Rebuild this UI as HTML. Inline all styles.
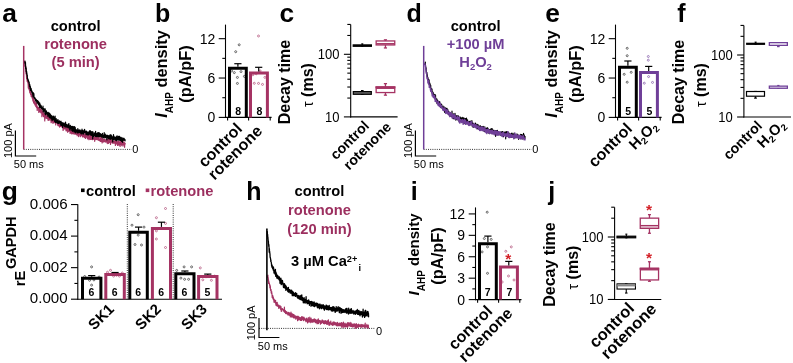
<!DOCTYPE html>
<html><head><meta charset="utf-8"><title>figure</title>
<style>
html,body{margin:0;padding:0;background:#fff;}
svg{display:block;will-change:transform;font-family:"Liberation Sans",sans-serif;}
</style></head><body>
<svg width="793" height="363" viewBox="0 0 793 363">
<rect width="793" height="363" fill="#fff"/>
<g opacity="0.999">
<text x="2.20" y="21.80" font-size="26.4" font-weight="bold" text-anchor="start" fill="#000000" >a</text>
<line x1="23.60" y1="149.40" x2="131.60" y2="149.40" stroke="#333" stroke-width="1.0" stroke-dasharray="1 1.2"/>
<path d="M24.6,62.5 24.7,63.4 24.8,61.2 25.0,66.4 25.1,62.6 25.2,64.2 25.3,66.3 25.4,64.8 25.6,66.1 25.7,67.4 25.8,70.3 25.9,73.6 26.0,71.9 26.2,71.5 26.3,74.7 26.4,74.4 26.5,76.2 26.6,78.8 26.8,77.5 26.9,79.5 27.0,79.0 27.1,80.4 27.2,81.4 27.4,80.3 27.5,81.6 27.6,82.2 27.7,82.2 27.8,81.9 28.0,82.1 28.1,84.2 28.2,84.5 28.3,88.1 28.4,82.8 28.6,86.4 28.7,87.2 28.8,88.9 28.9,88.3 29.0,87.1 29.2,88.6 29.3,89.8 29.4,89.2 29.5,90.9 29.6,88.0 29.8,92.8 29.9,92.8 30.0,90.9 30.1,92.5 30.2,92.1 30.4,91.4 30.5,92.9 30.6,94.4 30.7,93.0 30.8,93.4 31.0,94.1 31.1,95.1 31.2,96.5 31.3,94.5 31.4,96.2 31.6,96.2 31.7,94.0 31.8,96.1 31.9,96.8 32.0,97.3 32.2,98.1 32.3,95.5 32.4,98.5 32.5,97.9 32.6,97.3 32.8,100.1 32.9,100.7 33.0,99.1 33.1,101.2 33.2,99.9 33.4,100.6 33.5,99.4 33.6,103.0 33.7,97.9 33.8,101.3 34.0,102.5 34.1,99.3 34.2,101.8 34.3,102.1 34.4,103.5 34.6,104.2 34.7,102.3 34.8,101.3 34.9,105.0 35.0,105.0 35.2,103.1 35.3,104.3 35.4,104.5 35.5,105.0 35.6,104.7 35.8,106.4 35.9,102.7 36.0,106.4 36.1,105.8 36.2,105.2 36.4,107.2 36.5,103.0 36.6,107.6 36.7,106.8 36.8,105.1 37.0,107.3 37.1,106.6 37.2,110.4 37.3,109.7 37.4,108.1 37.6,106.9 37.7,107.3 37.8,107.8 37.9,107.6 38.0,107.3 38.2,107.9 38.3,108.4 38.4,108.2 38.5,108.1 38.6,108.0 38.8,112.4 38.9,107.5 39.0,108.2 39.1,110.2 39.2,109.4 39.4,110.4 39.5,111.0 39.6,111.7 39.7,111.2 39.8,109.2 40.0,111.9 40.1,108.5 40.2,110.7 40.3,110.3 40.4,109.7 40.6,111.9 40.7,111.1 40.8,112.7 40.9,109.7 41.0,112.8 41.2,112.5 41.3,112.1 41.4,110.3 41.5,111.9 41.6,110.4 41.8,109.9 41.9,116.7 42.0,114.0 42.1,115.1 42.2,112.5 42.4,114.0 42.5,114.2 42.6,114.2 42.7,113.6 42.8,113.4 43.0,111.2 43.1,114.7 43.2,114.6 43.3,115.6 43.4,114.0 43.6,116.6 43.7,114.0 43.8,113.2 43.9,116.0 44.0,114.4 44.2,113.5 44.3,115.4 44.4,116.3 44.5,115.8 44.6,116.3 44.8,120.9 44.9,116.8 45.0,117.8 45.1,113.5 45.2,116.5 45.4,117.1 45.5,115.8 45.6,115.2 45.7,116.9 45.8,116.1 46.0,115.8 46.1,118.1 46.2,118.4 46.3,117.2 46.4,116.3 46.6,117.6 46.7,118.1 46.8,117.9 46.9,115.4 47.0,116.8 47.2,117.8 47.3,118.2 47.4,118.7 47.5,118.5 47.6,116.2 47.8,116.9 47.9,116.3 48.0,120.2 48.1,118.2 48.2,118.8 48.4,119.4 48.5,117.8 48.6,116.9 48.7,117.8 48.8,118.3 49.0,120.4 49.1,119.7 49.2,117.3 49.3,119.6 49.4,119.8 49.6,117.6 49.7,118.9 49.8,116.8 49.9,119.6 50.0,118.9 50.2,117.7 50.3,118.5 50.4,119.8 50.5,118.9 50.6,120.0 50.8,120.4 50.9,118.8 51.0,119.5 51.1,122.7 51.2,120.2 51.4,119.1 51.5,120.3 51.6,118.6 51.7,121.8 51.8,120.9 52.0,121.9 52.1,121.7 52.2,121.2 52.3,122.0 52.4,121.1 52.6,120.1 52.7,119.7 52.8,120.5 52.9,118.0 53.0,123.4 53.2,119.1 53.3,121.2 53.4,119.7 53.5,118.9 53.6,121.4 53.8,121.2 53.9,121.4 54.0,122.4 54.1,121.0 54.2,122.3 54.4,122.5 54.5,121.5 54.6,121.6 54.7,122.7 54.8,122.2 55.0,122.4 55.1,119.3 55.2,122.4 55.3,122.9 55.4,122.3 55.6,122.9 55.7,125.0 55.8,122.8 55.9,123.5 56.0,121.7 56.2,121.8 56.3,122.3 56.4,121.7 56.5,123.0 56.6,121.9 56.8,122.9 56.9,121.4 57.0,121.2 57.1,122.5 57.2,122.1 57.4,122.7 57.5,122.8 57.6,123.2 57.7,125.0 57.8,125.5 58.0,124.7 58.1,123.4 58.2,125.8 58.3,122.1 58.4,121.5 58.6,124.5 58.7,124.2 58.8,124.1 58.9,124.4 59.0,122.3 59.2,123.0 59.3,126.1 59.4,125.9 59.5,123.8 59.6,127.1 59.8,123.5 59.9,124.1 60.0,125.3 60.1,123.5 60.2,124.4 60.4,124.9 60.5,124.7 60.6,126.3 60.7,126.0 60.8,124.0 61.0,124.6 61.1,125.7 61.2,125.5 61.3,124.6 61.4,126.2 61.6,126.8 61.7,125.0 61.8,126.9 61.9,123.9 62.0,124.0 62.2,126.7 62.3,125.1 62.4,125.0 62.5,125.9 62.6,125.5 62.8,126.8 62.9,124.6 63.0,126.1 63.1,130.5 63.2,126.8 63.4,124.3 63.5,127.5 63.6,127.5 63.7,128.6 63.8,127.1 64.0,126.2 64.1,128.9 64.2,128.0 64.3,125.0 64.4,128.2 64.6,127.1 64.7,128.8 64.8,127.0 64.9,128.5 65.0,127.8 65.2,128.4 65.3,127.7 65.4,127.3 65.5,127.9 65.6,128.7 65.8,128.5 65.9,130.1 66.0,128.6 66.1,129.0 66.2,130.9 66.4,128.4 66.5,129.0 66.6,127.7 66.7,128.5 66.8,130.6 67.0,129.0 67.1,130.5 67.2,127.4 67.3,127.0 67.4,129.2 67.6,127.2 67.7,132.3 67.8,130.6 67.9,127.5 68.0,129.0 68.2,128.5 68.3,129.8 68.4,129.3 68.5,130.6 68.6,131.3 68.8,129.3 68.9,128.1 69.0,130.4 69.1,129.5 69.2,131.2 69.4,129.7 69.5,131.0 69.6,130.4 69.7,129.8 69.8,129.5 70.0,131.1 70.1,133.4 70.2,131.3 70.3,130.2 70.4,131.3 70.6,130.6 70.7,128.9 70.8,131.0 70.9,132.6 71.0,130.3 71.2,129.4 71.3,131.5 71.4,133.2 71.5,132.2 71.6,132.3 71.8,134.0 71.9,133.2 72.0,132.1 72.1,131.0 72.2,131.5 72.4,131.3 72.5,132.6 72.6,130.5 72.7,133.6 72.8,131.9 73.0,131.2 73.1,132.8 73.2,129.3 73.3,130.9 73.4,131.2 73.6,133.1 73.7,131.5 73.8,134.0 73.9,131.7 74.0,133.0 74.2,131.5 74.3,133.9 74.4,132.2 74.5,133.2 74.6,132.0 74.8,131.3 74.9,132.4 75.0,134.1 75.1,131.4 75.2,130.8 75.4,132.4 75.5,133.8 75.6,131.5 75.7,132.2 75.8,133.2 76.0,132.6 76.1,133.4 76.2,134.5 76.3,133.1 76.4,133.0 76.6,134.1 76.7,133.1 76.8,132.0 76.9,132.0 77.0,131.9 77.2,135.7 77.3,133.3 77.4,134.1 77.5,134.4 77.6,132.3 77.8,134.3 77.9,132.9 78.0,131.0 78.1,133.4 78.2,132.3 78.4,133.3 78.5,134.2 78.6,136.6 78.7,133.2 78.8,133.7 79.0,134.4 79.1,134.2 79.2,133.8 79.3,132.7 79.4,132.8 79.6,133.9 79.7,132.7 79.8,133.3 79.9,132.6 80.0,135.6 80.2,132.4 80.3,136.7 80.4,133.6 80.5,133.1 80.6,132.9 80.8,135.4 80.9,135.8 81.0,133.5 81.1,135.0 81.2,134.4 81.4,134.3 81.5,134.9 81.6,135.7 81.7,132.3 81.8,132.0 82.0,135.1 82.1,134.8 82.2,135.7 82.3,132.8 82.4,133.7 82.6,136.9 82.7,133.4 82.8,135.5 82.9,134.1 83.0,134.6 83.2,133.5 83.3,136.7 83.4,132.9 83.5,133.8 83.6,134.2 83.8,136.8 83.9,135.8 84.0,136.3 84.1,135.5 84.2,135.8 84.4,136.2 84.5,137.5 84.6,135.9 84.7,133.8 84.8,137.1 85.0,135.9 85.1,134.4 85.2,135.6 85.3,134.6 85.4,138.5 85.6,135.5 85.7,133.5 85.8,136.4 85.9,135.0 86.0,137.7 86.2,136.3 86.3,133.9 86.4,135.6 86.5,134.9 86.6,135.3 86.8,135.5 86.9,133.8 87.0,136.6 87.1,135.3 87.2,135.3 87.4,137.4 87.5,138.8 87.6,135.7 87.7,138.8 87.8,134.0 88.0,137.3 88.1,135.9 88.2,136.5 88.3,135.4 88.4,136.0 88.6,136.3 88.7,136.3 88.8,137.3 88.9,139.7 89.0,136.0 89.2,136.7 89.3,134.7 89.4,133.8 89.5,138.7 89.6,135.3 89.8,136.1 89.9,137.1 90.0,138.2 90.1,137.5 90.2,139.5 90.4,136.9 90.5,134.9 90.6,137.4 90.7,137.4 90.8,136.3 91.0,136.9 91.1,136.6 91.2,139.5 91.3,136.6 91.4,135.7 91.6,137.8 91.7,135.2 91.8,138.0 91.9,138.0 92.0,136.5 92.2,136.9 92.3,136.9 92.4,139.7 92.5,138.2 92.6,136.2 92.8,136.2 92.9,137.7 93.0,137.8 93.1,136.9 93.2,138.2 93.4,137.6 93.5,139.3 93.6,138.5 93.7,137.9 93.8,138.2 94.0,136.9 94.1,139.2 94.2,138.6 94.3,137.6 94.4,138.3 94.6,137.5 94.7,141.3 94.8,137.7 94.9,138.9 95.0,138.7 95.2,137.3 95.3,138.4 95.4,138.0 95.5,138.7 95.6,138.8 95.8,139.4 95.9,139.5 96.0,138.0 96.1,137.9 96.2,137.8 96.4,137.5 96.5,136.5 96.6,139.4 96.7,138.6 96.8,138.5 97.0,136.7 97.1,136.9 97.2,135.7 97.3,138.7 97.4,139.7 97.6,139.6 97.7,138.8 97.8,137.6 97.9,139.0 98.0,139.0 98.2,139.9 98.3,140.0 98.4,138.8 98.5,139.1 98.6,140.0 98.8,139.8 98.9,139.0 99.0,136.5 99.1,138.4 99.2,140.4 99.4,139.5 99.5,140.6 99.6,139.0 99.7,139.5 99.8,140.4 100.0,140.3 100.1,140.0 100.2,140.9 100.3,141.2 100.4,141.3 100.6,137.5 100.7,139.0 100.8,139.2 100.9,139.2 101.0,137.7 101.2,141.4 101.3,138.5 101.4,139.9 101.5,136.8 101.6,139.2 101.8,139.5 101.9,138.7 102.0,140.8 102.1,142.9 102.2,138.9 102.4,138.9 102.5,142.2 102.6,140.7 102.7,139.7 102.8,138.5 103.0,141.0 103.1,140.4 103.2,142.1 103.3,139.1 103.4,140.0 103.6,139.9 103.7,140.0 103.8,141.6 103.9,141.4 104.0,139.6 104.2,140.3 104.3,140.1 104.4,141.5 104.5,140.2 104.6,139.1 104.8,140.1 104.9,140.5 105.0,141.7 105.1,142.2 105.2,142.2 105.4,141.1 105.5,140.0 105.6,141.4 105.7,140.5 105.8,140.0 106.0,141.1 106.1,141.3 106.2,141.9 106.3,139.7 106.4,138.8 106.6,141.5 106.7,139.7 106.8,142.2 106.9,139.6 107.0,140.3 107.2,138.8 107.3,143.6 107.4,140.5 107.5,141.0 107.6,140.5 107.8,140.8 107.9,142.2 108.0,141.3 108.1,141.2 108.2,142.7 108.4,139.6 108.5,142.7 108.6,143.3 108.7,139.6 108.8,141.7 109.0,139.8 109.1,138.8 109.2,140.4 109.3,142.1 109.4,142.5 109.6,141.1 109.7,140.5 109.8,141.0 109.9,140.7 110.0,140.8 110.2,138.7 110.3,141.4 110.4,141.6 110.5,144.5 110.6,142.6 110.8,141.6 110.9,141.9 111.0,142.3 111.1,141.0 111.2,139.3 111.4,141.0 111.5,141.7 111.6,142.1 111.7,141.1 111.8,140.9 112.0,141.7 112.1,142.1 112.2,142.8 112.3,141.8 112.4,142.6 112.6,140.9 112.7,143.1 112.8,142.1 112.9,140.5 113.0,141.9 113.2,142.3 113.3,140.9 113.4,143.1 113.5,141.8 113.6,142.8 113.8,141.0 113.9,142.7 114.0,143.2 114.1,141.8 114.2,142.1 114.4,141.7 114.5,142.8 114.6,142.5 114.7,143.1 114.8,142.4 115.0,140.9 115.1,140.8 115.2,141.9 115.3,143.1 115.4,145.4 115.6,143.6 115.7,141.8 115.8,140.1 115.9,143.3 116.0,142.7 116.2,141.1 116.3,143.8 116.4,142.7 116.5,142.2 116.6,140.3 116.8,143.9 116.9,142.8 117.0,142.5 117.1,141.6 117.2,142.3 117.4,144.4 117.5,143.5 117.6,145.4 117.7,144.2 117.8,143.3 118.0,144.0 118.1,143.1 118.2,141.1 118.3,142.2 118.4,143.4 118.6,141.8 118.7,142.4 118.8,141.5 118.9,145.2 119.0,141.4 119.2,141.8 119.3,142.0 119.4,144.3 119.5,144.6 119.6,142.5 119.8,143.9 119.9,142.1 120.0,143.2 120.1,146.5 120.2,144.4 120.4,143.2 120.5,141.6 120.6,142.9 120.7,141.7 120.8,140.6 121.0,144.1 121.1,144.1 121.2,143.7 121.3,144.7 121.4,141.4 121.6,145.2 121.7,142.1 121.8,144.0 121.9,144.1 122.0,144.9 122.2,146.0 122.3,144.0 122.4,143.1 122.5,142.2 122.6,143.9 122.8,142.6 122.9,142.0 123.0,143.4 123.1,144.5 123.2,143.3 123.4,142.4 123.5,143.9 123.6,142.2 123.7,141.9 123.8,145.6 124.0,144.1 124.1,146.3 124.2,142.0 124.3,145.2 124.4,143.7 124.6,147.3 124.7,143.7 124.8,143.4 124.9,144.5 125.0,144.2 125.2,143.4" fill="none" stroke="#A53363" stroke-width="1.2" stroke-linejoin="round" stroke-linecap="round"/>
<line x1="23.70" y1="45.90" x2="23.70" y2="149.40" stroke="#A53363" stroke-width="1.5" />
<path d="M24.9,63.1 25.0,61.2 25.1,62.2 25.3,62.4 25.4,65.7 25.5,62.6 25.6,68.5 25.7,66.2 25.9,68.5 26.0,68.6 26.1,71.6 26.2,67.9 26.3,70.7 26.5,71.3 26.6,73.9 26.7,71.7 26.8,73.5 26.9,73.3 27.1,75.1 27.2,76.5 27.3,75.0 27.4,78.5 27.5,78.8 27.7,79.0 27.8,80.2 27.9,78.8 28.0,79.9 28.1,79.3 28.3,80.5 28.4,81.8 28.5,80.7 28.6,81.4 28.7,81.4 28.9,81.6 29.0,82.2 29.1,83.4 29.2,82.4 29.3,84.4 29.5,86.6 29.6,85.8 29.7,85.0 29.8,84.5 29.9,85.1 30.1,88.5 30.2,86.8 30.3,86.3 30.4,87.7 30.5,90.5 30.7,88.4 30.8,89.4 30.9,89.4 31.0,88.9 31.1,88.3 31.3,89.5 31.4,90.0 31.5,91.3 31.6,91.9 31.7,92.3 31.9,91.7 32.0,92.8 32.1,91.0 32.2,93.8 32.3,93.2 32.5,92.4 32.6,93.7 32.7,93.3 32.8,95.1 32.9,95.8 33.1,96.9 33.2,92.7 33.3,93.0 33.4,94.4 33.5,95.5 33.7,96.7 33.8,96.3 33.9,93.7 34.0,96.1 34.1,97.8 34.3,97.3 34.4,98.3 34.5,97.3 34.6,97.6 34.7,98.4 34.9,98.9 35.0,98.8 35.1,98.9 35.2,98.1 35.3,99.5 35.5,99.4 35.6,100.8 35.7,101.1 35.8,100.0 35.9,99.4 36.1,99.3 36.2,100.8 36.3,100.5 36.4,100.1 36.5,100.8 36.7,100.1 36.8,102.0 36.9,100.7 37.0,102.9 37.1,102.1 37.3,102.5 37.4,100.6 37.5,102.3 37.6,103.2 37.7,101.2 37.9,102.3 38.0,102.8 38.1,101.2 38.2,103.5 38.3,104.3 38.5,102.4 38.6,104.0 38.7,102.1 38.8,103.9 38.9,102.1 39.1,105.7 39.2,105.0 39.3,104.6 39.4,103.8 39.5,106.5 39.7,107.6 39.8,103.0 39.9,107.0 40.0,107.7 40.1,106.2 40.3,104.5 40.4,107.2 40.5,106.1 40.6,105.7 40.7,105.1 40.9,107.5 41.0,108.0 41.1,106.3 41.2,107.9 41.3,105.9 41.5,108.5 41.6,107.6 41.7,107.5 41.8,107.7 41.9,109.0 42.1,109.0 42.2,108.8 42.3,108.5 42.4,108.5 42.5,109.3 42.7,109.0 42.8,109.6 42.9,108.5 43.0,106.0 43.1,110.4 43.3,112.0 43.4,109.9 43.5,109.4 43.6,109.4 43.7,109.6 43.9,109.9 44.0,108.6 44.1,109.5 44.2,109.0 44.3,110.7 44.5,110.1 44.6,111.2 44.7,110.5 44.8,112.1 44.9,111.2 45.1,113.8 45.2,108.8 45.3,110.5 45.4,112.5 45.5,114.7 45.7,111.3 45.8,111.8 45.9,111.6 46.0,113.7 46.1,111.8 46.3,113.1 46.4,112.0 46.5,110.9 46.6,113.0 46.7,113.4 46.9,114.5 47.0,112.8 47.1,112.3 47.2,113.9 47.3,113.6 47.5,113.8 47.6,113.5 47.7,115.2 47.8,114.3 47.9,116.3 48.1,115.4 48.2,115.0 48.3,112.3 48.4,115.2 48.5,115.1 48.7,115.6 48.8,116.0 48.9,114.3 49.0,115.9 49.1,114.3 49.3,117.5 49.4,113.5 49.5,113.1 49.6,113.3 49.7,114.3 49.9,114.1 50.0,118.1 50.1,115.3 50.2,114.1 50.3,117.3 50.5,115.3 50.6,114.5 50.7,117.3 50.8,117.1 50.9,115.8 51.1,118.2 51.2,116.7 51.3,118.7 51.4,117.4 51.5,118.8 51.7,117.1 51.8,115.5 51.9,120.2 52.0,116.5 52.1,117.0 52.3,116.5 52.4,117.2 52.5,117.9 52.6,117.9 52.7,118.6 52.9,120.1 53.0,117.8 53.1,116.5 53.2,116.6 53.3,117.4 53.5,116.2 53.6,119.4 53.7,117.9 53.8,118.2 53.9,118.7 54.1,117.0 54.2,117.8 54.3,119.8 54.4,119.8 54.5,118.6 54.7,121.5 54.8,117.7 54.9,119.0 55.0,119.2 55.1,116.1 55.3,122.1 55.4,120.2 55.5,118.5 55.6,122.5 55.7,120.8 55.9,120.7 56.0,119.5 56.1,120.4 56.2,118.5 56.3,121.5 56.5,120.1 56.6,120.8 56.7,122.3 56.8,121.2 56.9,121.3 57.1,121.4 57.2,120.2 57.3,122.2 57.4,123.1 57.5,122.2 57.7,122.4 57.8,120.3 57.9,120.4 58.0,119.7 58.1,123.1 58.3,121.3 58.4,123.4 58.5,120.8 58.6,121.3 58.7,122.0 58.9,123.1 59.0,122.1 59.1,122.3 59.2,122.1 59.3,122.4 59.5,120.8 59.6,122.4 59.7,122.1 59.8,122.3 59.9,123.1 60.1,121.7 60.2,122.5 60.3,122.3 60.4,123.2 60.5,123.8 60.7,121.6 60.8,123.6 60.9,125.5 61.0,121.2 61.1,122.0 61.3,122.0 61.4,122.8 61.5,125.3 61.6,123.3 61.7,122.5 61.9,124.2 62.0,122.7 62.1,125.0 62.2,124.0 62.3,125.4 62.5,122.9 62.6,127.6 62.7,124.9 62.8,124.7 62.9,123.9 63.1,123.1 63.2,123.0 63.3,124.0 63.4,123.2 63.5,124.6 63.7,123.3 63.8,125.2 63.9,125.6 64.0,123.6 64.1,126.1 64.3,124.3 64.4,126.1 64.5,125.3 64.6,126.2 64.7,123.6 64.9,124.8 65.0,126.8 65.1,124.3 65.2,122.6 65.3,122.7 65.5,122.1 65.6,122.6 65.7,124.8 65.8,127.0 65.9,124.9 66.1,125.9 66.2,125.5 66.3,125.7 66.4,125.5 66.5,125.6 66.7,126.4 66.8,124.4 66.9,127.2 67.0,127.2 67.1,125.8 67.3,127.1 67.4,125.3 67.5,125.6 67.6,126.5 67.7,126.1 67.9,125.9 68.0,125.6 68.1,125.8 68.2,127.8 68.3,124.2 68.5,127.2 68.6,126.5 68.7,127.7 68.8,127.5 68.9,123.5 69.1,127.7 69.2,127.5 69.3,127.2 69.4,126.6 69.5,128.3 69.7,126.8 69.8,129.7 69.9,128.1 70.0,130.2 70.1,126.6 70.3,125.4 70.4,128.6 70.5,128.8 70.6,127.8 70.7,125.9 70.9,127.3 71.0,128.7 71.1,127.8 71.2,127.9 71.3,127.9 71.5,127.0 71.6,127.6 71.7,126.5 71.8,130.6 71.9,127.8 72.1,129.1 72.2,127.3 72.3,129.6 72.4,126.3 72.5,129.9 72.7,128.8 72.8,131.5 72.9,127.3 73.0,129.1 73.1,129.5 73.3,130.6 73.4,128.6 73.5,129.3 73.6,126.6 73.7,128.3 73.9,130.0 74.0,130.8 74.1,129.2 74.2,132.1 74.3,131.8 74.5,129.6 74.6,126.7 74.7,127.6 74.8,128.9 74.9,131.3 75.1,130.4 75.2,127.4 75.3,129.8 75.4,132.2 75.5,129.8 75.7,129.3 75.8,132.9 75.9,130.4 76.0,129.8 76.1,130.8 76.3,130.4 76.4,129.9 76.5,132.0 76.6,131.9 76.7,131.6 76.9,130.4 77.0,132.0 77.1,130.5 77.2,131.2 77.3,131.9 77.5,131.7 77.6,132.9 77.7,131.3 77.8,128.6 77.9,129.3 78.1,132.5 78.2,130.4 78.3,131.3 78.4,129.8 78.5,132.2 78.7,130.4 78.8,132.8 78.9,130.3 79.0,132.4 79.1,131.9 79.3,130.2 79.4,132.5 79.5,130.0 79.6,130.1 79.7,132.1 79.9,130.4 80.0,130.5 80.1,130.8 80.2,130.0 80.3,132.6 80.5,132.1 80.6,131.3 80.7,131.2 80.8,132.0 80.9,133.6 81.1,132.5 81.2,130.8 81.3,132.5 81.4,131.4 81.5,131.3 81.7,133.9 81.8,131.1 81.9,131.0 82.0,129.2 82.1,129.9 82.3,132.3 82.4,130.9 82.5,132.4 82.6,130.4 82.7,130.8 82.9,132.7 83.0,133.7 83.1,132.6 83.2,133.4 83.3,134.1 83.5,133.3 83.6,130.8 83.7,131.9 83.8,132.8 83.9,131.5 84.1,132.6 84.2,130.1 84.3,131.1 84.4,132.8 84.5,129.4 84.7,130.8 84.8,132.2 84.9,130.1 85.0,132.4 85.1,131.3 85.3,132.0 85.4,132.0 85.5,132.6 85.6,131.7 85.7,132.5 85.9,131.7 86.0,133.2 86.1,134.6 86.2,132.8 86.3,132.8 86.5,131.1 86.6,133.5 86.7,131.7 86.8,131.6 86.9,133.4 87.1,132.9 87.2,134.1 87.3,134.5 87.4,132.1 87.5,132.9 87.7,135.0 87.8,134.0 87.9,133.8 88.0,134.5 88.1,132.2 88.3,133.7 88.4,134.7 88.5,135.0 88.6,132.0 88.7,132.7 88.9,133.5 89.0,132.7 89.1,132.6 89.2,134.0 89.3,132.7 89.5,130.9 89.6,133.6 89.7,132.7 89.8,132.3 89.9,131.3 90.1,134.6 90.2,130.5 90.3,131.2 90.4,133.0 90.5,134.9 90.7,135.0 90.8,132.0 90.9,133.2 91.0,131.6 91.1,134.8 91.3,131.7 91.4,133.4 91.5,134.9 91.6,133.3 91.7,135.5 91.9,132.6 92.0,134.1 92.1,134.8 92.2,133.5 92.3,135.5 92.5,134.5 92.6,131.7 92.7,138.8 92.8,134.7 92.9,134.0 93.1,132.1 93.2,134.0 93.3,133.4 93.4,134.8 93.5,134.5 93.7,136.3 93.8,134.2 93.9,134.7 94.0,134.5 94.1,133.9 94.3,133.9 94.4,135.5 94.5,135.2 94.6,133.4 94.7,132.8 94.9,134.2 95.0,135.7 95.1,134.3 95.2,136.5 95.3,133.4 95.5,134.6 95.6,131.3 95.7,133.7 95.8,134.1 95.9,135.1 96.1,136.6 96.2,134.6 96.3,136.4 96.4,135.4 96.5,135.8 96.7,134.0 96.8,136.4 96.9,133.3 97.0,135.3 97.1,133.5 97.3,134.1 97.4,132.9 97.5,134.1 97.6,135.2 97.7,134.7 97.9,133.2 98.0,136.7 98.1,135.3 98.2,136.2 98.3,135.9 98.5,134.1 98.6,132.6 98.7,133.9 98.8,136.6 98.9,133.8 99.1,136.1 99.2,134.4 99.3,135.6 99.4,132.9 99.5,136.7 99.7,135.2 99.8,136.4 99.9,135.5 100.0,136.3 100.1,135.2 100.3,136.3 100.4,133.5 100.5,134.0 100.6,136.3 100.7,135.4 100.9,135.2 101.0,135.3 101.1,136.1 101.2,134.8 101.3,136.2 101.5,134.4 101.6,135.1 101.7,136.9 101.8,137.0 101.9,134.3 102.1,136.8 102.2,134.4 102.3,136.7 102.4,133.4 102.5,134.4 102.7,135.2 102.8,135.6 102.9,137.7 103.0,137.0 103.1,137.9 103.3,137.5 103.4,135.6 103.5,135.7 103.6,137.4 103.7,136.1 103.9,135.9 104.0,134.4 104.1,136.0 104.2,132.7 104.3,135.6 104.5,135.0 104.6,137.1 104.7,135.6 104.8,135.9 104.9,138.0 105.1,135.0 105.2,136.7 105.3,134.0 105.4,136.5 105.5,136.9 105.7,137.5 105.8,135.3 105.9,136.9 106.0,136.9 106.1,136.5 106.3,136.7 106.4,137.2 106.5,137.1 106.6,135.4 106.7,135.2 106.9,139.8 107.0,139.1 107.1,135.0 107.2,137.3 107.3,137.6 107.5,137.7 107.6,137.0 107.7,135.7 107.8,136.6 107.9,136.3 108.1,137.1 108.2,136.6 108.3,136.8 108.4,138.3 108.5,138.5 108.7,135.6 108.8,136.5 108.9,136.1 109.0,138.6 109.1,137.1 109.3,139.0 109.4,136.6 109.5,137.2 109.6,135.5 109.7,138.9 109.9,136.8 110.0,135.4 110.1,136.6 110.2,134.5 110.3,137.3 110.5,137.5 110.6,137.8 110.7,139.3 110.8,137.1 110.9,138.5 111.1,137.9 111.2,137.3 111.3,135.0 111.4,138.8 111.5,137.0 111.7,137.7 111.8,136.1 111.9,138.0 112.0,137.8 112.1,137.8 112.3,137.6 112.4,139.1 112.5,139.0 112.6,138.7 112.7,142.0 112.9,137.1 113.0,137.4 113.1,136.7 113.2,138.5 113.3,137.1 113.5,134.6 113.6,136.5 113.7,138.1 113.8,139.3 113.9,136.1 114.1,137.3 114.2,137.9 114.3,137.2 114.4,138.8 114.5,138.2 114.7,138.6 114.8,137.3 114.9,140.1 115.0,138.2 115.1,139.9 115.3,137.7 115.4,139.0 115.5,137.4 115.6,137.1 115.7,137.4 115.9,138.3 116.0,138.1 116.1,140.3 116.2,137.0 116.3,137.0 116.5,140.6 116.6,139.2 116.7,136.1 116.8,139.1 116.9,138.8 117.1,135.8 117.2,138.1 117.3,138.5 117.4,139.5 117.5,139.8 117.7,138.7 117.8,139.9 117.9,138.5 118.0,137.6 118.1,137.5 118.3,139.4 118.4,136.3 118.5,139.6 118.6,137.4 118.7,138.3 118.9,139.4 119.0,140.3 119.1,136.4 119.2,137.8 119.3,138.9 119.5,138.1 119.6,140.0 119.7,136.3 119.8,139.4 119.9,139.5 120.1,139.0 120.2,140.3 120.3,137.5 120.4,140.4 120.5,138.1 120.7,139.9 120.8,138.7 120.9,140.1 121.0,140.1 121.1,137.3 121.3,138.9 121.4,139.0 121.5,138.9 121.6,138.2 121.7,141.5 121.9,139.5 122.0,141.2 122.1,138.5 122.2,137.9 122.3,139.4 122.5,138.6 122.6,142.3 122.7,139.6 122.8,140.8 122.9,139.1 123.1,139.0 123.2,139.4 123.3,139.9 123.4,140.5 123.5,139.3 123.7,138.6 123.8,138.2 123.9,139.4 124.0,140.2 124.1,140.1 124.3,139.5 124.4,138.8 124.5,139.8 124.6,140.3 124.7,139.6 124.9,139.8 125.0,139.5 125.1,140.8" fill="none" stroke="#000000" stroke-width="1.2" stroke-linejoin="round" stroke-linecap="round"/>
<text x="132.30" y="153.40" font-size="11" font-weight="normal" text-anchor="start" fill="#000000" >0</text>
<path d="M15.40,130.5 V156 H36.20" fill="none" stroke="#000" stroke-width="1.2"/>
<text transform="translate(11.80,158.00) rotate(-90)" font-size="11" font-weight="normal" text-anchor="start" fill="#000000" >100 pA</text>
<text x="13.80" y="168.20" font-size="11" font-weight="normal" text-anchor="start" fill="#000000" >50 ms</text>
<text x="75.60" y="31.00" font-size="14.7" font-weight="bold" text-anchor="middle" fill="#000000" >control</text>
<text x="75.60" y="48.90" font-size="14.7" font-weight="bold" text-anchor="middle" fill="#9C2F5F" >rotenone</text>
<text x="75.60" y="66.70" font-size="14.7" font-weight="bold" text-anchor="middle" fill="#9C2F5F" >(5 min)</text>
<text x="406.50" y="21.50" font-size="25.0" font-weight="bold" text-anchor="start" fill="#000000" >d</text>
<line x1="423.60" y1="149.40" x2="531.60" y2="149.40" stroke="#333" stroke-width="1.0" stroke-dasharray="1 1.2"/>
<path d="M424.9,64.5 425.0,63.6 425.1,63.9 425.3,62.1 425.4,64.8 425.5,65.4 425.6,66.5 425.7,66.5 425.9,68.0 426.0,68.1 426.1,67.8 426.2,71.3 426.3,72.0 426.5,73.7 426.6,72.4 426.7,72.5 426.8,73.1 426.9,72.5 427.1,76.4 427.2,74.5 427.3,75.1 427.4,77.0 427.5,79.5 427.7,78.4 427.8,77.2 427.9,78.0 428.0,80.1 428.1,79.5 428.3,79.1 428.4,80.2 428.5,81.8 428.6,83.8 428.7,80.1 428.9,81.3 429.0,81.5 429.1,79.9 429.2,82.1 429.3,82.4 429.5,85.5 429.6,84.3 429.7,82.9 429.8,86.1 429.9,85.3 430.1,83.9 430.2,85.8 430.3,86.2 430.4,86.2 430.5,87.8 430.7,85.3 430.8,88.2 430.9,90.2 431.0,90.4 431.1,91.1 431.3,91.3 431.4,92.0 431.5,89.0 431.6,91.7 431.7,88.6 431.9,90.4 432.0,89.0 432.1,93.0 432.2,93.6 432.3,91.9 432.5,94.6 432.6,91.8 432.7,93.1 432.8,93.3 432.9,92.0 433.1,94.1 433.2,96.3 433.3,92.8 433.4,95.5 433.5,94.4 433.7,97.0 433.8,95.7 433.9,96.2 434.0,96.4 434.1,96.1 434.3,94.3 434.4,98.0 434.5,94.8 434.6,97.1 434.7,97.8 434.9,96.2 435.0,97.7 435.1,99.2 435.2,98.0 435.3,97.1 435.5,94.9 435.6,97.5 435.7,98.2 435.8,98.6 435.9,98.3 436.1,100.1 436.2,99.1 436.3,99.8 436.4,100.9 436.5,99.2 436.7,100.0 436.8,103.2 436.9,101.8 437.0,99.2 437.1,100.8 437.3,101.8 437.4,102.8 437.5,101.5 437.6,100.8 437.7,100.7 437.9,102.6 438.0,102.3 438.1,101.4 438.2,102.0 438.3,101.8 438.5,103.4 438.6,101.8 438.7,103.4 438.8,104.0 438.9,103.7 439.1,102.2 439.2,105.0 439.3,102.6 439.4,104.2 439.5,102.8 439.7,101.7 439.8,104.3 439.9,104.5 440.0,104.2 440.1,104.8 440.3,103.8 440.4,103.8 440.5,104.7 440.6,107.4 440.7,106.2 440.9,104.7 441.0,106.1 441.1,105.0 441.2,105.2 441.3,106.9 441.5,105.4 441.6,104.1 441.7,105.2 441.8,106.5 441.9,106.7 442.1,108.3 442.2,106.0 442.3,107.9 442.4,107.6 442.5,107.0 442.7,108.3 442.8,108.0 442.9,106.4 443.0,108.9 443.1,106.2 443.3,107.9 443.4,107.9 443.5,108.5 443.6,107.2 443.7,108.2 443.9,108.1 444.0,109.7 444.1,107.5 444.2,108.7 444.3,108.4 444.5,107.2 444.6,112.3 444.7,108.9 444.8,107.3 444.9,111.0 445.1,108.0 445.2,109.9 445.3,110.6 445.4,108.8 445.5,109.2 445.7,109.1 445.8,109.8 445.9,108.0 446.0,108.6 446.1,110.0 446.3,111.6 446.4,111.2 446.5,112.7 446.6,111.5 446.7,110.1 446.9,110.7 447.0,108.4 447.1,109.8 447.2,109.8 447.3,111.6 447.5,112.1 447.6,110.7 447.7,110.8 447.8,109.7 447.9,111.6 448.1,112.1 448.2,112.5 448.3,111.0 448.4,114.6 448.5,113.7 448.7,112.2 448.8,111.8 448.9,112.1 449.0,112.8 449.1,112.7 449.3,113.4 449.4,113.9 449.5,114.7 449.6,114.6 449.7,113.1 449.9,113.8 450.0,112.9 450.1,112.7 450.2,115.9 450.3,113.0 450.5,116.1 450.6,113.3 450.7,114.1 450.8,115.2 450.9,113.9 451.1,114.5 451.2,113.8 451.3,113.5 451.4,114.0 451.5,113.4 451.7,116.4 451.8,114.2 451.9,116.6 452.0,111.2 452.1,114.6 452.3,115.4 452.4,114.4 452.5,116.2 452.6,115.7 452.7,114.6 452.9,115.6 453.0,118.6 453.1,115.5 453.2,115.6 453.3,114.7 453.5,115.5 453.6,113.8 453.7,115.3 453.8,118.6 453.9,117.0 454.1,116.5 454.2,117.2 454.3,118.2 454.4,116.7 454.5,118.6 454.7,117.4 454.8,116.3 454.9,118.3 455.0,113.3 455.1,115.6 455.3,116.7 455.4,115.3 455.5,116.3 455.6,115.8 455.7,115.9 455.9,120.1 456.0,117.6 456.1,116.8 456.2,118.6 456.3,116.7 456.5,118.2 456.6,117.6 456.7,119.3 456.8,115.5 456.9,118.3 457.1,117.6 457.2,116.1 457.3,118.9 457.4,116.6 457.5,119.7 457.7,118.4 457.8,118.7 457.9,118.0 458.0,119.1 458.1,115.7 458.3,118.2 458.4,117.4 458.5,118.6 458.6,118.3 458.7,119.2 458.9,117.4 459.0,120.8 459.1,121.5 459.2,118.4 459.3,118.7 459.5,119.2 459.6,120.5 459.7,121.3 459.8,117.5 459.9,118.3 460.1,117.8 460.2,117.8 460.3,117.1 460.4,119.7 460.5,117.8 460.7,121.2 460.8,120.5 460.9,118.2 461.0,118.2 461.1,118.8 461.3,121.3 461.4,118.6 461.5,117.8 461.6,119.7 461.7,120.3 461.9,119.0 462.0,121.9 462.1,120.3 462.2,120.6 462.3,119.0 462.5,120.1 462.6,120.0 462.7,117.4 462.8,120.6 462.9,118.1 463.1,120.3 463.2,118.6 463.3,123.0 463.4,120.9 463.5,121.6 463.7,121.8 463.8,119.0 463.9,117.9 464.0,120.3 464.1,121.9 464.3,121.0 464.4,121.9 464.5,122.1 464.6,119.1 464.7,121.4 464.9,123.6 465.0,120.4 465.1,118.7 465.2,121.0 465.3,120.7 465.5,121.9 465.6,120.3 465.7,121.6 465.8,118.7 465.9,122.6 466.1,123.6 466.2,123.3 466.3,119.8 466.4,122.2 466.5,118.1 466.7,122.2 466.8,121.8 466.9,120.7 467.0,122.4 467.1,122.2 467.3,123.3 467.4,122.3 467.5,122.5 467.6,119.8 467.7,120.9 467.9,121.8 468.0,122.8 468.1,122.5 468.2,124.4 468.3,121.5 468.5,122.3 468.6,123.0 468.7,122.4 468.8,123.4 468.9,122.1 469.1,124.6 469.2,122.5 469.3,124.4 469.4,123.0 469.5,124.9 469.7,121.4 469.8,123.8 469.9,122.7 470.0,123.6 470.1,124.8 470.3,121.9 470.4,121.8 470.5,122.2 470.6,123.8 470.7,121.2 470.9,123.7 471.0,122.1 471.1,122.3 471.2,123.3 471.3,124.3 471.5,123.1 471.6,123.3 471.7,123.9 471.8,123.7 471.9,120.7 472.1,123.6 472.2,124.3 472.3,125.6 472.4,126.8 472.5,125.1 472.7,124.5 472.8,123.2 472.9,124.6 473.0,125.5 473.1,126.1 473.3,123.5 473.4,125.0 473.5,125.7 473.6,127.1 473.7,125.1 473.9,124.2 474.0,124.0 474.1,124.5 474.2,124.2 474.3,126.1 474.5,126.4 474.6,126.1 474.7,126.7 474.8,124.7 474.9,125.8 475.1,124.9 475.2,125.5 475.3,127.0 475.4,125.5 475.5,123.2 475.7,125.3 475.8,124.8 475.9,123.8 476.0,124.8 476.1,127.0 476.3,128.0 476.4,125.3 476.5,127.2 476.6,127.5 476.7,124.6 476.9,126.1 477.0,126.1 477.1,126.4 477.2,124.3 477.3,125.9 477.5,127.7 477.6,128.0 477.7,128.7 477.8,126.1 477.9,128.9 478.1,127.4 478.2,124.9 478.3,127.6 478.4,126.3 478.5,127.4 478.7,126.7 478.8,128.4 478.9,127.3 479.0,126.6 479.1,128.3 479.3,127.4 479.4,126.6 479.5,128.8 479.6,126.7 479.7,126.5 479.9,126.7 480.0,125.6 480.1,126.7 480.2,129.8 480.3,126.4 480.5,127.6 480.6,126.2 480.7,126.9 480.8,129.6 480.9,128.9 481.1,127.0 481.2,127.9 481.3,126.9 481.4,127.0 481.5,126.8 481.7,126.9 481.8,128.5 481.9,128.9 482.0,128.8 482.1,128.0 482.3,126.6 482.4,128.2 482.5,127.2 482.6,129.5 482.7,129.1 482.9,129.4 483.0,128.1 483.1,126.3 483.2,129.8 483.3,130.2 483.5,126.9 483.6,128.9 483.7,130.3 483.8,127.5 483.9,131.1 484.1,128.5 484.2,127.7 484.3,130.8 484.4,129.5 484.5,128.3 484.7,130.3 484.8,126.8 484.9,131.5 485.0,128.3 485.1,129.7 485.3,128.9 485.4,130.0 485.5,130.6 485.6,128.5 485.7,130.6 485.9,129.3 486.0,128.8 486.1,129.5 486.2,128.5 486.3,128.8 486.5,131.1 486.6,129.7 486.7,131.4 486.8,130.5 486.9,128.8 487.1,127.7 487.2,129.2 487.3,130.5 487.4,130.2 487.5,129.1 487.7,131.5 487.8,128.1 487.9,128.7 488.0,130.5 488.1,133.1 488.3,130.9 488.4,129.1 488.5,131.2 488.6,131.3 488.7,131.6 488.9,130.0 489.0,129.5 489.1,130.7 489.2,131.1 489.3,132.6 489.5,133.3 489.6,129.8 489.7,130.0 489.8,130.7 489.9,130.4 490.1,131.4 490.2,131.4 490.3,131.2 490.4,132.6 490.5,130.7 490.7,129.6 490.8,129.0 490.9,129.7 491.0,129.7 491.1,128.7 491.3,131.9 491.4,131.3 491.5,130.6 491.6,130.1 491.7,129.2 491.9,130.1 492.0,133.6 492.1,128.5 492.2,131.5 492.3,132.3 492.5,131.5 492.6,131.0 492.7,132.4 492.8,130.1 492.9,132.2 493.1,133.3 493.2,130.2 493.3,130.5 493.4,131.8 493.5,132.9 493.7,133.3 493.8,132.5 493.9,130.9 494.0,130.4 494.1,132.1 494.3,132.3 494.4,130.5 494.5,131.9 494.6,132.3 494.7,133.2 494.9,130.7 495.0,132.7 495.1,130.5 495.2,131.5 495.3,132.0 495.5,134.0 495.6,136.3 495.7,132.5 495.8,132.8 495.9,133.5 496.1,130.5 496.2,133.2 496.3,130.7 496.4,134.4 496.5,134.2 496.7,133.0 496.8,131.4 496.9,134.5 497.0,132.8 497.1,132.6 497.3,133.3 497.4,130.4 497.5,133.1 497.6,133.9 497.7,133.1 497.9,132.9 498.0,131.5 498.1,133.5 498.2,133.0 498.3,132.8 498.5,132.1 498.6,133.9 498.7,134.4 498.8,133.4 498.9,134.1 499.1,134.6 499.2,135.0 499.3,133.3 499.4,132.8 499.5,132.5 499.7,133.1 499.8,133.8 499.9,134.3 500.0,132.6 500.1,133.4 500.3,132.0 500.4,134.8 500.5,132.8 500.6,133.7 500.7,132.4 500.9,132.9 501.0,132.5 501.1,135.5 501.2,133.8 501.3,133.2 501.5,132.2 501.6,132.7 501.7,134.2 501.8,135.6 501.9,131.7 502.1,132.4 502.2,133.3 502.3,132.8 502.4,131.5 502.5,133.6 502.7,134.6 502.8,131.7 502.9,133.9 503.0,134.9 503.1,135.0 503.3,133.2 503.4,136.7 503.5,134.5 503.6,132.8 503.7,135.1 503.9,132.5 504.0,135.0 504.1,132.3 504.2,134.9 504.3,133.2 504.5,135.4 504.6,134.9 504.7,134.6 504.8,134.1 504.9,135.4 505.1,131.8 505.2,134.6 505.3,134.6 505.4,134.9 505.5,135.2 505.7,138.8 505.8,134.4 505.9,135.2 506.0,134.5 506.1,136.3 506.3,131.8 506.4,136.5 506.5,133.5 506.6,131.5 506.7,133.1 506.9,134.2 507.0,134.7 507.1,134.4 507.2,135.5 507.3,134.5 507.5,134.5 507.6,131.9 507.7,135.2 507.8,135.9 507.9,134.1 508.1,132.3 508.2,133.0 508.3,136.8 508.4,134.0 508.5,133.9 508.7,133.7 508.8,135.6 508.9,134.1 509.0,133.7 509.1,133.0 509.3,134.7 509.4,136.1 509.5,134.7 509.6,136.0 509.7,135.2 509.9,135.2 510.0,135.2 510.1,135.1 510.2,136.3 510.3,135.7 510.5,134.4 510.6,135.3 510.7,135.0 510.8,135.8 510.9,135.4 511.1,135.7 511.2,133.4 511.3,135.7 511.4,136.9 511.5,133.6 511.7,137.3 511.8,135.7 511.9,135.1 512.0,133.1 512.1,136.7 512.3,134.2 512.4,134.8 512.5,136.1 512.6,134.2 512.7,134.2 512.9,134.1 513.0,135.4 513.1,136.3 513.2,136.1 513.3,136.1 513.5,135.2 513.6,135.8 513.7,134.8 513.8,138.1 513.9,135.9 514.1,133.2 514.2,134.4 514.3,137.7 514.4,134.0 514.5,135.2 514.7,136.3 514.8,134.4 514.9,137.1 515.0,137.9 515.1,134.8 515.3,137.3 515.4,134.8 515.5,134.7 515.6,136.2 515.7,136.2 515.9,135.2 516.0,137.0 516.1,134.2 516.2,134.9 516.3,134.7 516.5,137.0 516.6,137.1 516.7,136.9 516.8,134.5 516.9,136.3 517.1,136.7 517.2,134.1 517.3,135.2 517.4,137.0 517.5,137.1 517.7,136.6 517.8,136.9 517.9,136.7 518.0,136.5 518.1,136.2 518.3,135.2 518.4,136.0 518.5,135.9 518.6,139.3 518.7,136.7 518.9,136.4 519.0,136.1 519.1,136.3 519.2,136.1 519.3,137.2 519.5,136.5 519.6,137.5 519.7,135.7 519.8,137.0 519.9,137.7 520.1,135.2 520.2,136.8 520.3,137.0 520.4,136.2 520.5,136.1 520.7,134.4 520.8,138.2 520.9,135.6 521.0,135.2 521.1,137.6 521.3,134.5 521.4,138.0 521.5,137.4 521.6,137.6 521.7,136.7 521.9,135.4 522.0,134.5 522.1,138.7 522.2,136.3 522.3,136.3 522.5,139.0 522.6,136.2 522.7,136.7 522.8,136.7 522.9,136.9 523.1,135.8 523.2,136.4 523.3,138.7 523.4,138.1 523.5,133.4 523.7,134.7 523.8,137.6 523.9,137.1 524.0,136.7 524.1,138.5 524.3,135.0 524.4,138.8 524.5,137.5 524.6,138.0 524.7,137.6 524.9,138.4 525.0,137.1 525.1,136.7" fill="none" stroke="#000000" stroke-width="1.2" stroke-linejoin="round" stroke-linecap="round"/>
<path d="M424.9,63.6 425.0,64.9 425.1,63.8 425.3,66.6 425.4,66.0 425.5,65.3 425.6,67.2 425.7,69.5 425.9,70.0 426.0,68.9 426.1,71.8 426.2,71.7 426.3,73.1 426.5,73.8 426.6,72.6 426.7,75.3 426.8,74.8 426.9,78.3 427.1,78.0 427.2,77.9 427.3,77.1 427.4,78.8 427.5,79.4 427.7,78.0 427.8,82.7 427.9,80.9 428.0,82.9 428.1,79.8 428.3,83.6 428.4,80.3 428.5,81.6 428.6,83.5 428.7,83.3 428.9,80.7 429.0,82.7 429.1,85.5 429.2,87.5 429.3,86.4 429.5,85.3 429.6,87.1 429.7,85.0 429.8,87.5 429.9,85.6 430.1,87.7 430.2,87.9 430.3,89.5 430.4,88.5 430.5,90.8 430.7,89.5 430.8,91.2 430.9,91.4 431.0,88.3 431.1,90.9 431.3,91.2 431.4,90.4 431.5,91.9 431.6,90.1 431.7,92.8 431.9,93.0 432.0,93.0 432.1,95.9 432.2,93.5 432.3,93.4 432.5,92.7 432.6,94.2 432.7,92.9 432.8,95.9 432.9,93.8 433.1,95.0 433.2,97.5 433.3,96.8 433.4,95.9 433.5,97.5 433.7,96.0 433.8,97.3 433.9,96.6 434.0,95.6 434.1,97.6 434.3,98.4 434.4,97.1 434.5,96.4 434.6,97.3 434.7,95.3 434.9,97.7 435.0,97.4 435.1,101.5 435.2,98.5 435.3,97.5 435.5,100.8 435.6,99.7 435.7,100.3 435.8,100.6 435.9,100.7 436.1,100.2 436.2,102.0 436.3,101.6 436.4,100.4 436.5,101.0 436.7,100.1 436.8,101.8 436.9,102.5 437.0,102.6 437.1,102.7 437.3,101.9 437.4,104.1 437.5,102.1 437.6,102.5 437.7,102.2 437.9,102.8 438.0,102.6 438.1,105.6 438.2,103.7 438.3,101.2 438.5,102.9 438.6,101.8 438.7,104.8 438.8,105.6 438.9,103.4 439.1,104.9 439.2,104.0 439.3,104.9 439.4,106.7 439.5,104.3 439.7,103.3 439.8,105.9 439.9,105.8 440.0,106.1 440.1,106.7 440.3,104.7 440.4,103.2 440.5,107.1 440.6,105.5 440.7,104.6 440.9,104.8 441.0,107.8 441.1,106.8 441.2,107.1 441.3,107.9 441.5,106.1 441.6,105.7 441.7,106.2 441.8,106.0 441.9,107.2 442.1,106.5 442.2,107.8 442.3,107.3 442.4,107.9 442.5,108.9 442.7,109.9 442.8,110.2 442.9,108.5 443.0,108.7 443.1,107.9 443.3,109.9 443.4,110.7 443.5,108.1 443.6,109.9 443.7,108.6 443.9,108.9 444.0,109.5 444.1,108.9 444.2,110.6 444.3,107.7 444.5,108.8 444.6,109.6 444.7,108.6 444.8,110.4 444.9,108.2 445.1,110.2 445.2,108.5 445.3,110.2 445.4,111.1 445.5,113.3 445.7,112.0 445.8,112.8 445.9,111.0 446.0,113.6 446.1,110.8 446.3,110.9 446.4,109.7 446.5,111.6 446.6,112.8 446.7,110.8 446.9,111.2 447.0,111.2 447.1,111.5 447.2,111.2 447.3,110.4 447.5,113.9 447.6,109.8 447.7,111.2 447.8,112.9 447.9,113.8 448.1,112.4 448.2,112.4 448.3,112.9 448.4,112.7 448.5,114.2 448.7,112.6 448.8,112.0 448.9,112.8 449.0,113.6 449.1,115.1 449.3,115.7 449.4,113.3 449.5,112.0 449.6,112.2 449.7,116.7 449.9,113.6 450.0,114.7 450.1,116.6 450.2,113.4 450.3,114.1 450.5,113.7 450.6,113.1 450.7,115.5 450.8,115.9 450.9,112.3 451.1,116.0 451.2,114.5 451.3,115.1 451.4,115.2 451.5,113.4 451.7,114.7 451.8,113.9 451.9,117.6 452.0,118.0 452.1,115.5 452.3,114.0 452.4,116.9 452.5,115.3 452.6,117.8 452.7,118.2 452.9,117.9 453.0,115.3 453.1,114.7 453.2,115.1 453.3,115.9 453.5,115.0 453.6,117.7 453.7,117.1 453.8,116.3 453.9,115.9 454.1,117.3 454.2,118.2 454.3,114.2 454.4,117.0 454.5,116.4 454.7,115.9 454.8,116.4 454.9,117.1 455.0,119.3 455.1,117.1 455.3,116.6 455.4,115.7 455.5,118.2 455.6,116.4 455.7,117.3 455.9,118.4 456.0,117.6 456.1,117.1 456.2,117.5 456.3,118.9 456.5,117.8 456.6,118.2 456.7,118.5 456.8,117.6 456.9,118.5 457.1,117.8 457.2,119.7 457.3,118.9 457.4,116.2 457.5,118.2 457.7,119.9 457.8,118.3 457.9,118.1 458.0,120.0 458.1,117.4 458.3,118.9 458.4,119.7 458.5,120.1 458.6,117.8 458.7,117.6 458.9,121.1 459.0,118.3 459.1,119.2 459.2,122.4 459.3,118.9 459.5,116.8 459.6,123.1 459.7,120.9 459.8,120.1 459.9,123.2 460.1,119.7 460.2,121.6 460.3,119.9 460.4,119.6 460.5,120.8 460.7,121.1 460.8,121.7 460.9,121.6 461.0,119.6 461.1,120.1 461.3,122.7 461.4,121.1 461.5,120.5 461.6,122.1 461.7,122.2 461.9,122.1 462.0,119.9 462.1,120.2 462.2,121.6 462.3,122.2 462.5,119.3 462.6,120.3 462.7,120.6 462.8,122.2 462.9,119.6 463.1,124.4 463.2,121.2 463.3,121.9 463.4,124.0 463.5,122.0 463.7,122.2 463.8,121.1 463.9,122.0 464.0,120.1 464.1,121.4 464.3,121.6 464.4,120.4 464.5,122.9 464.6,122.3 464.7,119.4 464.9,122.8 465.0,120.7 465.1,122.6 465.2,121.0 465.3,121.6 465.5,122.6 465.6,124.5 465.7,120.3 465.8,121.8 465.9,121.8 466.1,123.7 466.2,122.1 466.3,122.9 466.4,124.1 466.5,123.5 466.7,122.1 466.8,122.1 466.9,122.3 467.0,122.9 467.1,121.7 467.3,122.8 467.4,123.6 467.5,122.3 467.6,122.4 467.7,123.4 467.9,124.1 468.0,121.5 468.1,121.9 468.2,124.8 468.3,123.2 468.5,122.0 468.6,123.5 468.7,125.4 468.8,122.7 468.9,122.3 469.1,123.3 469.2,125.6 469.3,122.9 469.4,124.4 469.5,125.0 469.7,124.6 469.8,123.4 469.9,124.7 470.0,124.2 470.1,125.0 470.3,124.6 470.4,124.3 470.5,122.0 470.6,125.0 470.7,124.1 470.9,121.7 471.0,124.3 471.1,124.8 471.2,124.3 471.3,121.5 471.5,123.6 471.6,123.4 471.7,124.3 471.8,121.8 471.9,125.1 472.1,125.5 472.2,125.6 472.3,124.8 472.4,124.8 472.5,126.2 472.7,125.6 472.8,124.6 472.9,125.5 473.0,126.1 473.1,126.7 473.3,125.9 473.4,124.4 473.5,124.8 473.6,125.7 473.7,125.9 473.9,126.8 474.0,123.2 474.1,124.7 474.2,124.2 474.3,127.1 474.5,126.7 474.6,126.2 474.7,126.9 474.8,125.2 474.9,126.6 475.1,126.1 475.2,126.2 475.3,126.0 475.4,127.4 475.5,127.5 475.7,124.5 475.8,125.7 475.9,126.5 476.0,127.1 476.1,124.5 476.3,125.4 476.4,126.2 476.5,128.8 476.6,125.6 476.7,126.2 476.9,126.7 477.0,126.7 477.1,127.0 477.2,126.9 477.3,126.7 477.5,127.3 477.6,127.4 477.7,127.5 477.8,127.6 477.9,125.7 478.1,127.4 478.2,127.5 478.3,128.3 478.4,128.2 478.5,129.3 478.7,126.5 478.8,127.4 478.9,127.8 479.0,126.8 479.1,127.3 479.3,127.3 479.4,127.2 479.5,130.6 479.6,127.8 479.7,129.7 479.9,126.9 480.0,128.4 480.1,127.3 480.2,128.5 480.3,130.2 480.5,130.6 480.6,129.3 480.7,128.9 480.8,128.4 480.9,128.9 481.1,130.1 481.2,126.5 481.3,128.2 481.4,127.4 481.5,129.9 481.7,127.1 481.8,129.8 481.9,127.3 482.0,127.5 482.1,130.7 482.3,130.2 482.4,127.8 482.5,126.8 482.6,127.9 482.7,129.8 482.9,129.1 483.0,128.0 483.1,129.9 483.2,131.0 483.3,127.9 483.5,129.3 483.6,128.4 483.7,130.8 483.8,129.6 483.9,128.7 484.1,127.5 484.2,130.5 484.3,129.3 484.4,129.9 484.5,129.5 484.7,130.3 484.8,127.7 484.9,128.9 485.0,130.4 485.1,132.2 485.3,130.4 485.4,130.0 485.5,129.3 485.6,129.3 485.7,130.0 485.9,129.3 486.0,130.5 486.1,130.4 486.2,132.9 486.3,130.3 486.5,131.9 486.6,130.0 486.7,131.8 486.8,133.7 486.9,130.0 487.1,129.3 487.2,132.1 487.3,130.8 487.4,130.5 487.5,131.4 487.7,131.2 487.8,132.4 487.9,131.4 488.0,130.2 488.1,129.6 488.3,128.9 488.4,129.7 488.5,132.4 488.6,129.3 488.7,131.2 488.9,132.7 489.0,131.9 489.1,133.1 489.2,132.1 489.3,133.2 489.5,130.6 489.6,130.3 489.7,133.8 489.8,131.8 489.9,131.5 490.1,130.7 490.2,133.4 490.3,132.1 490.4,132.1 490.5,130.7 490.7,131.7 490.8,131.1 490.9,131.5 491.0,132.0 491.1,131.0 491.3,130.6 491.4,132.7 491.5,130.5 491.6,133.5 491.7,133.7 491.9,130.1 492.0,133.9 492.1,130.9 492.2,133.5 492.3,131.2 492.5,132.9 492.6,130.7 492.7,132.8 492.8,132.2 492.9,134.0 493.1,133.0 493.2,131.0 493.3,132.6 493.4,131.4 493.5,132.5 493.7,134.2 493.8,134.2 493.9,132.5 494.0,131.3 494.1,132.5 494.3,135.0 494.4,132.3 494.5,130.6 494.6,130.8 494.7,131.0 494.9,133.9 495.0,132.1 495.1,131.7 495.2,133.1 495.3,133.8 495.5,132.5 495.6,131.7 495.7,133.0 495.8,133.8 495.9,130.7 496.1,131.1 496.2,135.3 496.3,133.4 496.4,133.3 496.5,131.2 496.7,131.7 496.8,132.7 496.9,134.6 497.0,133.1 497.1,131.0 497.3,135.0 497.4,135.1 497.5,134.2 497.6,131.8 497.7,132.4 497.9,132.9 498.0,133.4 498.1,135.5 498.2,131.6 498.3,132.4 498.5,133.3 498.6,132.7 498.7,132.8 498.8,131.6 498.9,133.5 499.1,133.1 499.2,133.7 499.3,134.7 499.4,133.2 499.5,133.4 499.7,133.9 499.8,133.1 499.9,133.9 500.0,131.5 500.1,132.6 500.3,134.3 500.4,134.0 500.5,134.8 500.6,132.1 500.7,133.1 500.9,133.7 501.0,133.7 501.1,133.6 501.2,135.6 501.3,133.3 501.5,133.5 501.6,134.6 501.7,134.5 501.8,134.2 501.9,136.1 502.1,134.7 502.2,133.8 502.3,132.9 502.4,135.6 502.5,133.3 502.7,134.6 502.8,133.5 502.9,136.8 503.0,135.1 503.1,132.1 503.3,134.6 503.4,132.6 503.5,133.6 503.6,135.3 503.7,132.7 503.9,134.8 504.0,134.3 504.1,135.3 504.2,133.2 504.3,135.2 504.5,134.0 504.6,135.8 504.7,134.6 504.8,135.3 504.9,136.2 505.1,135.9 505.2,134.6 505.3,135.5 505.4,134.6 505.5,135.2 505.7,136.7 505.8,133.6 505.9,133.3 506.0,135.3 506.1,134.1 506.3,136.3 506.4,135.9 506.5,135.6 506.6,134.8 506.7,134.3 506.9,133.8 507.0,134.2 507.1,134.9 507.2,133.8 507.3,136.2 507.5,135.8 507.6,133.4 507.7,131.7 507.8,136.4 507.9,133.6 508.1,131.5 508.2,133.1 508.3,135.4 508.4,136.9 508.5,136.4 508.7,137.1 508.8,137.5 508.9,137.6 509.0,134.1 509.1,135.1 509.3,134.6 509.4,135.5 509.5,135.0 509.6,135.8 509.7,137.7 509.9,134.6 510.0,136.4 510.1,134.3 510.2,133.9 510.3,136.8 510.5,135.4 510.6,135.7 510.7,137.4 510.8,134.0 510.9,135.8 511.1,137.5 511.2,134.4 511.3,136.1 511.4,136.9 511.5,136.9 511.7,136.6 511.8,137.0 511.9,136.5 512.0,136.8 512.1,136.4 512.3,134.8 512.4,136.1 512.5,135.8 512.6,137.4 512.7,136.6 512.9,136.6 513.0,136.3 513.1,136.9 513.2,135.4 513.3,136.4 513.5,135.3 513.6,135.7 513.7,134.8 513.8,138.9 513.9,136.9 514.1,135.0 514.2,135.8 514.3,136.7 514.4,135.7 514.5,137.2 514.7,136.8 514.8,137.7 514.9,132.8 515.0,137.3 515.1,136.7 515.3,137.6 515.4,135.7 515.5,135.5 515.6,135.0 515.7,137.0 515.9,136.7 516.0,134.4 516.1,135.8 516.2,136.5 516.3,135.1 516.5,136.1 516.6,136.5 516.7,135.9 516.8,134.6 516.9,138.1 517.1,137.0 517.2,137.1 517.3,136.0 517.4,136.9 517.5,135.9 517.7,136.6 517.8,136.9 517.9,137.5 518.0,136.1 518.1,135.9 518.3,138.4 518.4,135.1 518.5,137.1 518.6,136.8 518.7,137.8 518.9,136.4 519.0,135.7 519.1,137.1 519.2,135.3 519.3,135.7 519.5,137.0 519.6,137.2 519.7,135.3 519.8,138.6 519.9,137.0 520.1,138.6 520.2,138.5 520.3,137.2 520.4,136.7 520.5,135.4 520.7,138.4 520.8,139.1 520.9,137.4 521.0,137.3 521.1,136.2 521.3,136.0 521.4,137.2 521.5,138.8 521.6,137.0 521.7,138.5 521.9,137.9 522.0,137.3 522.1,136.4 522.2,137.0 522.3,136.0 522.5,138.5 522.6,138.1 522.7,136.3 522.8,136.7 522.9,136.0 523.1,137.8 523.2,138.4 523.3,136.5 523.4,137.1 523.5,138.1 523.7,135.7 523.8,138.0 523.9,139.7 524.0,139.8 524.1,137.6 524.3,137.7 524.4,138.7 524.5,138.7 524.6,139.7 524.7,138.2 524.9,138.3 525.0,138.3 525.1,140.0" fill="none" stroke="#6F3F98" stroke-width="1.2" stroke-linejoin="round" stroke-linecap="round"/>
<line x1="423.70" y1="45.90" x2="423.70" y2="149.40" stroke="#6F3F98" stroke-width="1.5" />
<text x="532.30" y="153.40" font-size="11" font-weight="normal" text-anchor="start" fill="#000000" >0</text>
<path d="M415.40,130.5 V156 H436.20" fill="none" stroke="#000" stroke-width="1.2"/>
<text transform="translate(411.80,158.00) rotate(-90)" font-size="11" font-weight="normal" text-anchor="start" fill="#000000" >100 pA</text>
<text x="413.80" y="168.20" font-size="11" font-weight="normal" text-anchor="start" fill="#000000" >50 ms</text>
<text x="475.60" y="31.00" font-size="14.7" font-weight="bold" text-anchor="middle" fill="#000000" >control</text>
<text x="475.60" y="48.90" font-size="14.7" font-weight="bold" text-anchor="middle" fill="#6F3F98" >+100 µM</text>
<text x="475.60" y="67.40" font-size="14.7" font-weight="bold" text-anchor="middle" fill="#6F3F98" >H<tspan font-size="9.5" dy="3">2</tspan><tspan dy="-3">O</tspan><tspan font-size="9.5" dy="3">2</tspan></text>
<text x="155.10" y="21.50" font-size="25.0" font-weight="bold" text-anchor="start" fill="#000000" >b</text>
<line x1="225.50" y1="24.60" x2="225.50" y2="117.95" stroke="#000000" stroke-width="1.1" />
<line x1="224.95" y1="117.40" x2="271.60" y2="117.40" stroke="#000000" stroke-width="1.1" />
<line x1="218.70" y1="117.40" x2="225.50" y2="117.40" stroke="#000000" stroke-width="1.1" />
<text x="215.30" y="122.40" font-size="14" font-weight="normal" text-anchor="end" fill="#000000" >0</text>
<line x1="218.70" y1="78.04" x2="225.50" y2="78.04" stroke="#000000" stroke-width="1.1" />
<text x="215.30" y="83.04" font-size="14" font-weight="normal" text-anchor="end" fill="#000000" >6</text>
<line x1="218.70" y1="38.68" x2="225.50" y2="38.68" stroke="#000000" stroke-width="1.1" />
<text x="215.30" y="43.68" font-size="14" font-weight="normal" text-anchor="end" fill="#000000" >12</text>
<line x1="222.30" y1="97.72" x2="225.50" y2="97.72" stroke="#000000" stroke-width="1.1" />
<line x1="222.30" y1="58.36" x2="225.50" y2="58.36" stroke="#000000" stroke-width="1.1" />
<line x1="227.60" y1="117.40" x2="227.60" y2="120.60" stroke="#000000" stroke-width="1.1" />
<line x1="248.60" y1="117.40" x2="248.60" y2="120.60" stroke="#000000" stroke-width="1.1" />
<line x1="270.20" y1="117.40" x2="270.20" y2="120.60" stroke="#000000" stroke-width="1.1" />
<circle cx="239.2" cy="44.8" r="1.0" fill="none" stroke="#333" stroke-width="0.7"/>
<circle cx="235.7" cy="51.7" r="1.0" fill="none" stroke="#333" stroke-width="0.7"/>
<circle cx="234.3" cy="72.6" r="1.0" fill="none" stroke="#333" stroke-width="0.7"/>
<circle cx="241.0" cy="71.6" r="1.0" fill="none" stroke="#333" stroke-width="0.7"/>
<circle cx="244.4" cy="76.4" r="1.0" fill="none" stroke="#333" stroke-width="0.7"/>
<circle cx="237.4" cy="77.4" r="1.0" fill="none" stroke="#333" stroke-width="0.7"/>
<circle cx="237.4" cy="83.4" r="1.0" fill="none" stroke="#333" stroke-width="0.7"/>
<circle cx="231.6" cy="70.9" r="1.0" fill="none" stroke="#333" stroke-width="0.7"/>
<circle cx="258.5" cy="36.0" r="1.0" fill="none" stroke="#A53363" stroke-width="0.6"/>
<circle cx="260.1" cy="70.9" r="1.0" fill="none" stroke="#A53363" stroke-width="0.6"/>
<circle cx="256.2" cy="73.8" r="1.0" fill="none" stroke="#A53363" stroke-width="0.6"/>
<circle cx="252.9" cy="74.8" r="1.0" fill="none" stroke="#A53363" stroke-width="0.6"/>
<circle cx="264.9" cy="77.4" r="1.0" fill="none" stroke="#A53363" stroke-width="0.6"/>
<circle cx="254.3" cy="83.3" r="1.0" fill="none" stroke="#A53363" stroke-width="0.6"/>
<circle cx="258.5" cy="83.4" r="1.0" fill="none" stroke="#A53363" stroke-width="0.6"/>
<circle cx="262.5" cy="84.4" r="1.0" fill="none" stroke="#A53363" stroke-width="0.6"/>
<path d="M229.50,117.40 V68.30 H246.30 V117.40" fill="none" stroke="#000000" stroke-width="3.0"/>
<path d="M250.50,117.40 V72.90 H267.40 V117.40" fill="none" stroke="#A53363" stroke-width="3.0"/>
<line x1="237.90" y1="66.80" x2="237.90" y2="63.70" stroke="#000000" stroke-width="1.2" />
<line x1="234.30" y1="63.70" x2="241.50" y2="63.70" stroke="#000000" stroke-width="1.2" />
<line x1="258.70" y1="71.40" x2="258.70" y2="67.30" stroke="#000000" stroke-width="1.2" />
<line x1="255.10" y1="67.30" x2="262.30" y2="67.30" stroke="#000000" stroke-width="1.2" />
<text x="238.20" y="115.10" font-size="10.5" font-weight="bold" text-anchor="middle" fill="#000000" >8</text>
<text x="259.40" y="115.10" font-size="10.5" font-weight="bold" text-anchor="middle" fill="#000000" >8</text>
<text transform="translate(166.50,74.00) rotate(-90)" font-size="16.4" font-weight="bold" text-anchor="middle" fill="#000000" ><tspan font-style="italic">I</tspan><tspan font-size="10" dy="6">AHP</tspan><tspan dy="-6"> density</tspan></text>
<text transform="translate(190.80,74.00) rotate(-90)" font-size="16.4" font-weight="bold" text-anchor="middle" fill="#000000" >(pA/pF)</text>
<text transform="translate(243.20,129.70) rotate(-45)" font-size="16.1" font-weight="bold" text-anchor="end" fill="#000000" >control</text>
<text transform="translate(263.30,132.00) rotate(-45)" font-size="16.1" font-weight="bold" text-anchor="end" fill="#000000" >rotenone</text>
<text x="545.30" y="21.80" font-size="26.4" font-weight="bold" text-anchor="start" fill="#000000" >e</text>
<line x1="615.50" y1="24.60" x2="615.50" y2="117.95" stroke="#000000" stroke-width="1.1" />
<line x1="614.95" y1="117.40" x2="661.60" y2="117.40" stroke="#000000" stroke-width="1.1" />
<line x1="608.70" y1="117.40" x2="615.50" y2="117.40" stroke="#000000" stroke-width="1.1" />
<text x="605.30" y="122.40" font-size="14" font-weight="normal" text-anchor="end" fill="#000000" >0</text>
<line x1="608.70" y1="78.04" x2="615.50" y2="78.04" stroke="#000000" stroke-width="1.1" />
<text x="605.30" y="83.04" font-size="14" font-weight="normal" text-anchor="end" fill="#000000" >6</text>
<line x1="608.70" y1="38.68" x2="615.50" y2="38.68" stroke="#000000" stroke-width="1.1" />
<text x="605.30" y="43.68" font-size="14" font-weight="normal" text-anchor="end" fill="#000000" >12</text>
<line x1="612.30" y1="97.72" x2="615.50" y2="97.72" stroke="#000000" stroke-width="1.1" />
<line x1="612.30" y1="58.36" x2="615.50" y2="58.36" stroke="#000000" stroke-width="1.1" />
<line x1="617.60" y1="117.40" x2="617.60" y2="120.60" stroke="#000000" stroke-width="1.1" />
<line x1="638.60" y1="117.40" x2="638.60" y2="120.60" stroke="#000000" stroke-width="1.1" />
<line x1="660.20" y1="117.40" x2="660.20" y2="120.60" stroke="#000000" stroke-width="1.1" />
<circle cx="627.2" cy="48.3" r="1.0" fill="none" stroke="#333" stroke-width="0.7"/>
<circle cx="627.2" cy="55.7" r="1.0" fill="none" stroke="#333" stroke-width="0.7"/>
<circle cx="624.2" cy="74.3" r="1.0" fill="none" stroke="#333" stroke-width="0.7"/>
<circle cx="631.2" cy="72.3" r="1.0" fill="none" stroke="#333" stroke-width="0.7"/>
<circle cx="627.2" cy="82.2" r="1.0" fill="none" stroke="#333" stroke-width="0.7"/>
<circle cx="648.3" cy="56.5" r="1.0" fill="none" stroke="#6F3F98" stroke-width="0.6"/>
<circle cx="648.3" cy="60.2" r="1.0" fill="none" stroke="#6F3F98" stroke-width="0.6"/>
<circle cx="648.6" cy="76.6" r="1.0" fill="none" stroke="#6F3F98" stroke-width="0.6"/>
<circle cx="644.3" cy="83.2" r="1.0" fill="none" stroke="#6F3F98" stroke-width="0.6"/>
<circle cx="652.5" cy="82.4" r="1.0" fill="none" stroke="#6F3F98" stroke-width="0.6"/>
<path d="M619.50,117.40 V67.30 H636.30 V117.40" fill="none" stroke="#000000" stroke-width="3.0"/>
<path d="M640.50,117.40 V72.60 H657.40 V117.40" fill="none" stroke="#6F3F98" stroke-width="3.0"/>
<line x1="627.90" y1="65.80" x2="627.90" y2="61.00" stroke="#000000" stroke-width="1.2" />
<line x1="624.30" y1="61.00" x2="631.50" y2="61.00" stroke="#000000" stroke-width="1.2" />
<line x1="648.70" y1="71.10" x2="648.70" y2="66.40" stroke="#000000" stroke-width="1.2" />
<line x1="645.10" y1="66.40" x2="652.30" y2="66.40" stroke="#000000" stroke-width="1.2" />
<text x="628.20" y="115.10" font-size="10.5" font-weight="bold" text-anchor="middle" fill="#000000" >5</text>
<text x="649.40" y="115.10" font-size="10.5" font-weight="bold" text-anchor="middle" fill="#000000" >5</text>
<text transform="translate(556.50,74.00) rotate(-90)" font-size="16.4" font-weight="bold" text-anchor="middle" fill="#000000" ><tspan font-style="italic">I</tspan><tspan font-size="10" dy="6">AHP</tspan><tspan dy="-6"> density</tspan></text>
<text transform="translate(580.80,74.00) rotate(-90)" font-size="16.4" font-weight="bold" text-anchor="middle" fill="#000000" >(pA/pF)</text>
<text transform="translate(633.20,129.70) rotate(-45)" font-size="16.1" font-weight="bold" text-anchor="end" fill="#000000" >control</text>
<text transform="translate(658.20,127.20) rotate(-45)" font-size="14.9" font-weight="bold" text-anchor="end" fill="#000000" >H<tspan font-size="9.5" dy="3">2</tspan><tspan dy="-3">O</tspan><tspan font-size="9.5" dy="3">2</tspan></text>
<text x="279.60" y="21.80" font-size="26.4" font-weight="bold" text-anchor="start" fill="#000000" >c</text>
<line x1="350.70" y1="24.43" x2="350.70" y2="117.45" stroke="#000000" stroke-width="1.1" />
<line x1="350.15" y1="116.90" x2="397.60" y2="116.90" stroke="#000000" stroke-width="1.1" />
<line x1="343.90" y1="116.90" x2="350.70" y2="116.90" stroke="#000000" stroke-width="1.1" />
<text transform="translate(339.50,121.90) scale(0.93,1)" font-size="14" font-weight="normal" text-anchor="end" fill="#000000" >10</text>
<line x1="343.90" y1="54.30" x2="350.70" y2="54.30" stroke="#000000" stroke-width="1.1" />
<text transform="translate(339.50,59.30) scale(0.93,1)" font-size="14" font-weight="normal" text-anchor="end" fill="#000000" >100</text>
<line x1="347.30" y1="98.06" x2="350.70" y2="98.06" stroke="#000000" stroke-width="1.1" />
<line x1="347.30" y1="87.03" x2="350.70" y2="87.03" stroke="#000000" stroke-width="1.1" />
<line x1="347.30" y1="79.21" x2="350.70" y2="79.21" stroke="#000000" stroke-width="1.1" />
<line x1="347.30" y1="73.14" x2="350.70" y2="73.14" stroke="#000000" stroke-width="1.1" />
<line x1="347.30" y1="68.19" x2="350.70" y2="68.19" stroke="#000000" stroke-width="1.1" />
<line x1="347.30" y1="64.00" x2="350.70" y2="64.00" stroke="#000000" stroke-width="1.1" />
<line x1="347.30" y1="60.37" x2="350.70" y2="60.37" stroke="#000000" stroke-width="1.1" />
<line x1="347.30" y1="57.16" x2="350.70" y2="57.16" stroke="#000000" stroke-width="1.1" />
<line x1="347.30" y1="35.46" x2="350.70" y2="35.46" stroke="#000000" stroke-width="1.1" />
<line x1="347.30" y1="24.43" x2="350.70" y2="24.43" stroke="#000000" stroke-width="1.1" />
<line x1="362.30" y1="43.90" x2="362.30" y2="44.90" stroke="#000000" stroke-width="1.2" />
<line x1="362.30" y1="46.30" x2="362.30" y2="46.30" stroke="#000000" stroke-width="1.2" />
<line x1="361.30" y1="43.90" x2="363.30" y2="43.90" stroke="#000000" stroke-width="1.2" />
<line x1="361.30" y1="46.30" x2="363.30" y2="46.30" stroke="#000000" stroke-width="1.2" />
<rect x="353.20" y="44.90" width="18.20" height="1.40" fill="#000000" stroke="#000000" stroke-width="1.2"/>
<line x1="385.45" y1="39.85" x2="385.45" y2="40.95" stroke="#A53363" stroke-width="1.3" />
<line x1="385.45" y1="44.95" x2="385.45" y2="47.95" stroke="#A53363" stroke-width="1.3" />
<line x1="383.85" y1="39.85" x2="387.05" y2="39.85" stroke="#A53363" stroke-width="1.3" />
<line x1="383.85" y1="47.95" x2="387.05" y2="47.95" stroke="#A53363" stroke-width="1.3" />
<rect x="376.15" y="40.95" width="18.60" height="4.00" fill="#fff" stroke="#A53363" stroke-width="1.3"/>
<line x1="376.15" y1="43.70" x2="394.75" y2="43.70" stroke="#A53363" stroke-width="1.3" />
<rect x="376.6" y="43.7" width="17.6" height="1.2" fill="#A53363" opacity="0.35"/>
<line x1="362.30" y1="90.60" x2="362.30" y2="91.60" stroke="#000000" stroke-width="1.2" />
<line x1="362.30" y1="94.30" x2="362.30" y2="94.30" stroke="#000000" stroke-width="1.2" />
<line x1="361.00" y1="90.60" x2="363.60" y2="90.60" stroke="#000000" stroke-width="1.2" />
<line x1="361.00" y1="94.30" x2="363.60" y2="94.30" stroke="#000000" stroke-width="1.2" />
<rect x="353.30" y="91.60" width="18.00" height="2.70" fill="#666" stroke="#000000" stroke-width="1.2"/>
<line x1="385.45" y1="83.65" x2="385.45" y2="86.95" stroke="#A53363" stroke-width="1.3" />
<line x1="385.45" y1="92.55" x2="385.45" y2="95.15" stroke="#A53363" stroke-width="1.3" />
<line x1="383.85" y1="83.65" x2="387.05" y2="83.65" stroke="#A53363" stroke-width="1.3" />
<line x1="383.85" y1="95.15" x2="387.05" y2="95.15" stroke="#A53363" stroke-width="1.3" />
<rect x="376.15" y="86.95" width="18.60" height="5.60" fill="#fff" stroke="#A53363" stroke-width="1.3"/>
<line x1="376.15" y1="88.30" x2="394.75" y2="88.30" stroke="#A53363" stroke-width="1.3" />
<rect x="375.5" y="86.3" width="19.9" height="2.0" fill="#A53363"/>
<text transform="translate(290.40,82.00) rotate(-90)" font-size="16" font-weight="bold" text-anchor="middle" fill="#000000" >Decay time</text>
<text transform="translate(312.70,85.00) rotate(-90)" font-size="16" font-weight="bold" text-anchor="middle" fill="#000000" ><tspan font-weight="normal" font-size="14">τ</tspan> (ms)</text>
<text transform="translate(370.00,126.60) rotate(-45)" font-size="14.2" font-weight="bold" text-anchor="end" fill="#000000" >control</text>
<text transform="translate(392.20,127.80) rotate(-45)" font-size="14.2" font-weight="bold" text-anchor="end" fill="#000000" >rotenone</text>
<text x="677.20" y="21.50" font-size="25.0" font-weight="bold" text-anchor="start" fill="#000000" >f</text>
<line x1="743.90" y1="25.42" x2="743.90" y2="117.55" stroke="#000000" stroke-width="1.1" />
<line x1="743.35" y1="117.00" x2="791.00" y2="117.00" stroke="#000000" stroke-width="1.1" />
<line x1="737.10" y1="117.00" x2="743.90" y2="117.00" stroke="#000000" stroke-width="1.1" />
<text transform="translate(732.70,122.00) scale(0.93,1)" font-size="14" font-weight="normal" text-anchor="end" fill="#000000" >10</text>
<line x1="737.10" y1="55.00" x2="743.90" y2="55.00" stroke="#000000" stroke-width="1.1" />
<text transform="translate(732.70,60.00) scale(0.93,1)" font-size="14" font-weight="normal" text-anchor="end" fill="#000000" >100</text>
<line x1="740.50" y1="98.34" x2="743.90" y2="98.34" stroke="#000000" stroke-width="1.1" />
<line x1="740.50" y1="87.42" x2="743.90" y2="87.42" stroke="#000000" stroke-width="1.1" />
<line x1="740.50" y1="79.67" x2="743.90" y2="79.67" stroke="#000000" stroke-width="1.1" />
<line x1="740.50" y1="73.66" x2="743.90" y2="73.66" stroke="#000000" stroke-width="1.1" />
<line x1="740.50" y1="68.75" x2="743.90" y2="68.75" stroke="#000000" stroke-width="1.1" />
<line x1="740.50" y1="64.60" x2="743.90" y2="64.60" stroke="#000000" stroke-width="1.1" />
<line x1="740.50" y1="61.01" x2="743.90" y2="61.01" stroke="#000000" stroke-width="1.1" />
<line x1="740.50" y1="57.84" x2="743.90" y2="57.84" stroke="#000000" stroke-width="1.1" />
<line x1="740.50" y1="36.34" x2="743.90" y2="36.34" stroke="#000000" stroke-width="1.1" />
<line x1="740.50" y1="25.42" x2="743.90" y2="25.42" stroke="#000000" stroke-width="1.1" />
<line x1="755.60" y1="42.20" x2="755.60" y2="43.30" stroke="#000000" stroke-width="1.2" />
<line x1="755.60" y1="44.30" x2="755.60" y2="44.30" stroke="#000000" stroke-width="1.2" />
<line x1="754.60" y1="42.20" x2="756.60" y2="42.20" stroke="#000000" stroke-width="1.2" />
<line x1="754.60" y1="44.30" x2="756.60" y2="44.30" stroke="#000000" stroke-width="1.2" />
<rect x="746.70" y="43.30" width="17.80" height="1.00" fill="#000000" stroke="#000000" stroke-width="1.2"/>
<line x1="778.35" y1="42.65" x2="778.35" y2="42.65" stroke="#6F3F98" stroke-width="1.3" />
<line x1="778.35" y1="45.35" x2="778.35" y2="46.55" stroke="#6F3F98" stroke-width="1.3" />
<line x1="777.05" y1="42.65" x2="779.65" y2="42.65" stroke="#6F3F98" stroke-width="1.3" />
<line x1="777.05" y1="46.55" x2="779.65" y2="46.55" stroke="#6F3F98" stroke-width="1.3" />
<rect x="769.35" y="42.65" width="18.00" height="2.70" fill="#fff" stroke="#6F3F98" stroke-width="1.3"/>
<line x1="755.50" y1="91.50" x2="755.50" y2="91.50" stroke="#000000" stroke-width="1.2" />
<line x1="755.50" y1="96.20" x2="755.50" y2="98.10" stroke="#000000" stroke-width="1.2" />
<line x1="754.10" y1="91.50" x2="756.90" y2="91.50" stroke="#000000" stroke-width="1.2" />
<line x1="754.10" y1="98.10" x2="756.90" y2="98.10" stroke="#000000" stroke-width="1.2" />
<rect x="746.50" y="91.50" width="18.00" height="4.70" fill="#fff" stroke="#000000" stroke-width="1.2"/>
<line x1="778.35" y1="85.53" x2="778.35" y2="86.12" stroke="#6F3F98" stroke-width="1.25" />
<line x1="778.35" y1="88.28" x2="778.35" y2="88.28" stroke="#6F3F98" stroke-width="1.25" />
<line x1="777.25" y1="85.53" x2="779.45" y2="85.53" stroke="#6F3F98" stroke-width="1.25" />
<line x1="777.25" y1="88.28" x2="779.45" y2="88.28" stroke="#6F3F98" stroke-width="1.25" />
<rect x="769.33" y="86.12" width="18.05" height="2.15" fill="#e6dcee" stroke="#6F3F98" stroke-width="1.25"/>
<text transform="translate(683.70,82.00) rotate(-90)" font-size="16" font-weight="bold" text-anchor="middle" fill="#000000" >Decay time</text>
<text transform="translate(705.90,85.00) rotate(-90)" font-size="16" font-weight="bold" text-anchor="middle" fill="#000000" ><tspan font-weight="normal" font-size="14">τ</tspan> (ms)</text>
<text transform="translate(763.00,126.60) rotate(-45)" font-size="14.2" font-weight="bold" text-anchor="end" fill="#000000" >control</text>
<text transform="translate(786.00,125.60) rotate(-45)" font-size="14.7" font-weight="bold" text-anchor="end" fill="#000000" >H<tspan font-size="9.5" dy="3">2</tspan><tspan dy="-3">O</tspan><tspan font-size="9.5" dy="3">2</tspan></text>
<text x="548.30" y="199.70" font-size="25.0" font-weight="bold" text-anchor="start" fill="#000000" >j</text>
<line x1="614.60" y1="207.20" x2="614.60" y2="300.00" stroke="#000000" stroke-width="1.1" />
<line x1="614.05" y1="299.45" x2="661.30" y2="299.45" stroke="#000000" stroke-width="1.1" />
<line x1="607.80" y1="299.45" x2="614.60" y2="299.45" stroke="#000000" stroke-width="1.1" />
<text transform="translate(603.40,304.45) scale(0.93,1)" font-size="14" font-weight="normal" text-anchor="end" fill="#000000" >10</text>
<line x1="607.80" y1="237.00" x2="614.60" y2="237.00" stroke="#000000" stroke-width="1.1" />
<text transform="translate(603.40,242.00) scale(0.93,1)" font-size="14" font-weight="normal" text-anchor="end" fill="#000000" >100</text>
<line x1="611.20" y1="280.65" x2="614.60" y2="280.65" stroke="#000000" stroke-width="1.1" />
<line x1="611.20" y1="269.65" x2="614.60" y2="269.65" stroke="#000000" stroke-width="1.1" />
<line x1="611.20" y1="261.85" x2="614.60" y2="261.85" stroke="#000000" stroke-width="1.1" />
<line x1="611.20" y1="255.80" x2="614.60" y2="255.80" stroke="#000000" stroke-width="1.1" />
<line x1="611.20" y1="250.85" x2="614.60" y2="250.85" stroke="#000000" stroke-width="1.1" />
<line x1="611.20" y1="246.67" x2="614.60" y2="246.67" stroke="#000000" stroke-width="1.1" />
<line x1="611.20" y1="243.05" x2="614.60" y2="243.05" stroke="#000000" stroke-width="1.1" />
<line x1="611.20" y1="239.86" x2="614.60" y2="239.86" stroke="#000000" stroke-width="1.1" />
<line x1="611.20" y1="218.20" x2="614.60" y2="218.20" stroke="#000000" stroke-width="1.1" />
<line x1="611.20" y1="207.20" x2="614.60" y2="207.20" stroke="#000000" stroke-width="1.1" />
<line x1="626.35" y1="234.15" x2="626.35" y2="236.15" stroke="#000000" stroke-width="1.1" />
<line x1="626.35" y1="237.85" x2="626.35" y2="237.85" stroke="#000000" stroke-width="1.1" />
<line x1="625.35" y1="234.15" x2="627.35" y2="234.15" stroke="#000000" stroke-width="1.1" />
<line x1="625.35" y1="237.85" x2="627.35" y2="237.85" stroke="#000000" stroke-width="1.1" />
<rect x="616.95" y="236.15" width="18.80" height="1.70" fill="#000000" stroke="#000000" stroke-width="1.1"/>
<line x1="649.45" y1="214.65" x2="649.45" y2="218.15" stroke="#A53363" stroke-width="1.3" />
<line x1="649.45" y1="228.35" x2="649.45" y2="233.25" stroke="#A53363" stroke-width="1.3" />
<line x1="647.95" y1="214.65" x2="650.95" y2="214.65" stroke="#A53363" stroke-width="1.3" />
<line x1="647.95" y1="233.25" x2="650.95" y2="233.25" stroke="#A53363" stroke-width="1.3" />
<rect x="640.25" y="218.15" width="18.40" height="10.20" fill="#fff" stroke="#A53363" stroke-width="1.3"/>
<line x1="640.25" y1="225.60" x2="658.65" y2="225.60" stroke="#A53363" stroke-width="1.3" />
<rect x="640.5" y="226.2" width="17.9" height="1.8" fill="#A53363" opacity="0.25"/>
<line x1="626.25" y1="283.85" x2="626.25" y2="283.85" stroke="#000000" stroke-width="1.1" />
<line x1="626.25" y1="289.05" x2="626.25" y2="293.05" stroke="#000000" stroke-width="1.1" />
<line x1="624.95" y1="283.85" x2="627.55" y2="283.85" stroke="#000000" stroke-width="1.1" />
<line x1="624.95" y1="293.05" x2="627.55" y2="293.05" stroke="#000000" stroke-width="1.1" />
<rect x="617.05" y="283.85" width="18.40" height="5.20" fill="#fff" stroke="#000000" stroke-width="1.1"/>
<rect x="617.2" y="284.3" width="18.3" height="2.1" fill="#888"/>
<line x1="649.45" y1="261.75" x2="649.45" y2="268.35" stroke="#A53363" stroke-width="1.3" />
<line x1="649.45" y1="279.95" x2="649.45" y2="281.25" stroke="#A53363" stroke-width="1.3" />
<line x1="647.95" y1="261.75" x2="650.95" y2="261.75" stroke="#A53363" stroke-width="1.3" />
<line x1="647.95" y1="281.25" x2="650.95" y2="281.25" stroke="#A53363" stroke-width="1.3" />
<rect x="640.35" y="268.35" width="18.20" height="11.60" fill="#fff" stroke="#A53363" stroke-width="1.3"/>
<line x1="640.35" y1="269.80" x2="658.55" y2="269.80" stroke="#A53363" stroke-width="1.3" />
<rect x="639.7" y="267.7" width="19.5" height="2.1" fill="#A53363"/>
<text x="649.00" y="214.70" font-size="15.5" font-weight="bold" text-anchor="middle" fill="#D42027" >*</text>
<text x="649.00" y="262.70" font-size="15.5" font-weight="bold" text-anchor="middle" fill="#D42027" >*</text>
<text transform="translate(554.80,264.50) rotate(-90)" font-size="16" font-weight="bold" text-anchor="middle" fill="#000000" >Decay time</text>
<text transform="translate(578.00,267.50) rotate(-90)" font-size="16" font-weight="bold" text-anchor="middle" fill="#000000" ><tspan font-weight="normal" font-size="14">τ</tspan> (ms)</text>
<text transform="translate(635.20,309.30) rotate(-45)" font-size="16.5" font-weight="bold" text-anchor="end" fill="#000000" >control</text>
<text transform="translate(657.50,310.10) rotate(-45)" font-size="16.5" font-weight="bold" text-anchor="end" fill="#000000" >rotenone</text>
<text x="1.80" y="200.10" font-size="26.4" font-weight="bold" text-anchor="start" fill="#000000" >g</text>
<line x1="77.80" y1="204.30" x2="77.80" y2="299.75" stroke="#000000" stroke-width="1.1" />
<line x1="77.25" y1="299.20" x2="222.00" y2="299.20" stroke="#000000" stroke-width="1.1" />
<line x1="71.00" y1="299.20" x2="77.80" y2="299.20" stroke="#000000" stroke-width="1.1" />
<text transform="translate(67.60,303.30) scale(1.08,1)" font-size="14" font-weight="normal" text-anchor="end" fill="#000000" >0.000</text>
<line x1="71.00" y1="267.65" x2="77.80" y2="267.65" stroke="#000000" stroke-width="1.1" />
<text transform="translate(67.60,271.75) scale(1.08,1)" font-size="14" font-weight="normal" text-anchor="end" fill="#000000" >0.002</text>
<line x1="71.00" y1="236.10" x2="77.80" y2="236.10" stroke="#000000" stroke-width="1.1" />
<text transform="translate(67.60,240.20) scale(1.08,1)" font-size="14" font-weight="normal" text-anchor="end" fill="#000000" >0.004</text>
<line x1="71.00" y1="204.55" x2="77.80" y2="204.55" stroke="#000000" stroke-width="1.1" />
<text transform="translate(67.60,208.65) scale(1.08,1)" font-size="14" font-weight="normal" text-anchor="end" fill="#000000" >0.006</text>
<line x1="74.40" y1="283.43" x2="77.80" y2="283.43" stroke="#000000" stroke-width="1.1" />
<line x1="74.40" y1="251.88" x2="77.80" y2="251.88" stroke="#000000" stroke-width="1.1" />
<line x1="74.40" y1="220.32" x2="77.80" y2="220.32" stroke="#000000" stroke-width="1.1" />
<line x1="127.30" y1="204.00" x2="127.30" y2="299.20" stroke="#333" stroke-width="1.0" stroke-dasharray="1 1.2"/>
<line x1="173.20" y1="204.00" x2="173.20" y2="299.20" stroke="#333" stroke-width="1.0" stroke-dasharray="1 1.2"/>
<circle cx="91.6" cy="266.9" r="1.0" fill="none" stroke="#333" stroke-width="0.7"/>
<circle cx="84.7" cy="276.5" r="1.0" fill="none" stroke="#333" stroke-width="0.7"/>
<circle cx="89.6" cy="280.3" r="1.0" fill="none" stroke="#333" stroke-width="0.7"/>
<circle cx="93.9" cy="279.9" r="1.0" fill="none" stroke="#333" stroke-width="0.7"/>
<circle cx="99.1" cy="277.0" r="1.0" fill="none" stroke="#333" stroke-width="0.7"/>
<circle cx="91.6" cy="285.1" r="1.0" fill="none" stroke="#333" stroke-width="0.7"/>
<circle cx="138.2" cy="214.7" r="1.0" fill="none" stroke="#333" stroke-width="0.7"/>
<circle cx="132.0" cy="225.2" r="1.0" fill="none" stroke="#333" stroke-width="0.7"/>
<circle cx="144.0" cy="227.1" r="1.0" fill="none" stroke="#333" stroke-width="0.7"/>
<circle cx="138.2" cy="235.1" r="1.0" fill="none" stroke="#333" stroke-width="0.7"/>
<circle cx="135.0" cy="244.5" r="1.0" fill="none" stroke="#333" stroke-width="0.7"/>
<circle cx="141.5" cy="245.0" r="1.0" fill="none" stroke="#333" stroke-width="0.7"/>
<circle cx="176.7" cy="270.4" r="1.0" fill="none" stroke="#333" stroke-width="0.7"/>
<circle cx="184.1" cy="266.9" r="1.0" fill="none" stroke="#333" stroke-width="0.7"/>
<circle cx="191.6" cy="266.9" r="1.0" fill="none" stroke="#333" stroke-width="0.7"/>
<circle cx="180.9" cy="278.1" r="1.0" fill="none" stroke="#333" stroke-width="0.7"/>
<circle cx="184.6" cy="279.3" r="1.0" fill="none" stroke="#333" stroke-width="0.7"/>
<circle cx="188.6" cy="279.3" r="1.0" fill="none" stroke="#333" stroke-width="0.7"/>
<circle cx="110.5" cy="270.3" r="1.0" fill="none" stroke="#A53363" stroke-width="0.6"/>
<circle cx="107.5" cy="272.2" r="1.0" fill="none" stroke="#A53363" stroke-width="0.6"/>
<circle cx="113.6" cy="276.1" r="1.0" fill="none" stroke="#A53363" stroke-width="0.6"/>
<circle cx="116.5" cy="275.3" r="1.0" fill="none" stroke="#A53363" stroke-width="0.6"/>
<circle cx="119.4" cy="276.1" r="1.0" fill="none" stroke="#A53363" stroke-width="0.6"/>
<circle cx="122.3" cy="273.0" r="1.0" fill="none" stroke="#A53363" stroke-width="0.6"/>
<circle cx="165.5" cy="208.5" r="1.0" fill="none" stroke="#A53363" stroke-width="0.6"/>
<circle cx="156.4" cy="217.7" r="1.0" fill="none" stroke="#A53363" stroke-width="0.6"/>
<circle cx="165.5" cy="223.4" r="1.0" fill="none" stroke="#A53363" stroke-width="0.6"/>
<circle cx="156.4" cy="230.9" r="1.0" fill="none" stroke="#A53363" stroke-width="0.6"/>
<circle cx="156.4" cy="239.0" r="1.0" fill="none" stroke="#A53363" stroke-width="0.6"/>
<circle cx="165.5" cy="247.5" r="1.0" fill="none" stroke="#A53363" stroke-width="0.6"/>
<circle cx="200.3" cy="267.9" r="1.0" fill="none" stroke="#A53363" stroke-width="0.6"/>
<circle cx="202.8" cy="279.8" r="1.0" fill="none" stroke="#A53363" stroke-width="0.6"/>
<circle cx="206.0" cy="276.8" r="1.0" fill="none" stroke="#A53363" stroke-width="0.6"/>
<circle cx="211.4" cy="280.3" r="1.0" fill="none" stroke="#A53363" stroke-width="0.6"/>
<circle cx="214.7" cy="276.1" r="1.0" fill="none" stroke="#A53363" stroke-width="0.6"/>
<path d="M82.50,299.20 V278.30 H100.90 V299.20" fill="none" stroke="#000000" stroke-width="3.0"/>
<line x1="91.70" y1="276.80" x2="91.70" y2="275.60" stroke="#000000" stroke-width="1.2" />
<line x1="88.10" y1="275.60" x2="95.30" y2="275.60" stroke="#000000" stroke-width="1.2" />
<text x="91.30" y="295.80" font-size="10.5" font-weight="bold" text-anchor="middle" fill="#000000" >6</text>
<path d="M105.80,299.20 V274.50 H124.30 V299.20" fill="none" stroke="#A53363" stroke-width="3.0"/>
<line x1="115.05" y1="273.00" x2="115.05" y2="272.50" stroke="#000000" stroke-width="1.2" />
<line x1="111.45" y1="272.50" x2="118.65" y2="272.50" stroke="#000000" stroke-width="1.2" />
<text x="114.65" y="295.80" font-size="10.5" font-weight="bold" text-anchor="middle" fill="#000000" >6</text>
<path d="M129.80,299.20 V232.30 H147.30 V299.20" fill="none" stroke="#000000" stroke-width="3.0"/>
<line x1="138.55" y1="230.80" x2="138.55" y2="227.10" stroke="#000000" stroke-width="1.2" />
<line x1="134.95" y1="227.10" x2="142.15" y2="227.10" stroke="#000000" stroke-width="1.2" />
<text x="138.15" y="295.80" font-size="10.5" font-weight="bold" text-anchor="middle" fill="#000000" >6</text>
<path d="M152.40,299.20 V228.40 H170.50 V299.20" fill="none" stroke="#A53363" stroke-width="3.0"/>
<line x1="161.45" y1="226.90" x2="161.45" y2="222.20" stroke="#000000" stroke-width="1.2" />
<line x1="157.85" y1="222.20" x2="165.05" y2="222.20" stroke="#000000" stroke-width="1.2" />
<text x="161.05" y="295.80" font-size="10.5" font-weight="bold" text-anchor="middle" fill="#000000" >6</text>
<path d="M175.80,299.20 V273.70 H194.00 V299.20" fill="none" stroke="#000000" stroke-width="3.0"/>
<line x1="184.90" y1="272.20" x2="184.90" y2="271.00" stroke="#000000" stroke-width="1.2" />
<line x1="181.30" y1="271.00" x2="188.50" y2="271.00" stroke="#000000" stroke-width="1.2" />
<text x="184.50" y="295.80" font-size="10.5" font-weight="bold" text-anchor="middle" fill="#000000" >6</text>
<path d="M198.60,299.20 V276.50 H217.00 V299.20" fill="none" stroke="#A53363" stroke-width="3.0"/>
<line x1="207.80" y1="275.00" x2="207.80" y2="274.10" stroke="#000000" stroke-width="1.2" />
<line x1="204.20" y1="274.10" x2="211.40" y2="274.10" stroke="#000000" stroke-width="1.2" />
<text x="207.40" y="295.80" font-size="10.5" font-weight="bold" text-anchor="middle" fill="#000000" >5</text>
<rect x="81.0" y="188.5" width="3.6" height="3.6" fill="#000"/>
<text x="86.00" y="196.10" font-size="14.7" font-weight="bold" text-anchor="start" fill="#000000" >control</text>
<rect x="145.7" y="188.5" width="3.6" height="3.6" fill="#A53363"/>
<text x="150.60" y="196.10" font-size="14.7" font-weight="bold" text-anchor="start" fill="#9C2F5F" >rotenone</text>
<text transform="translate(115.00,310.00) rotate(-45)" font-size="15" font-weight="bold" text-anchor="end" fill="#000000" >SK1</text>
<text transform="translate(162.00,310.00) rotate(-45)" font-size="15" font-weight="bold" text-anchor="end" fill="#000000" >SK2</text>
<text transform="translate(208.00,310.00) rotate(-45)" font-size="15" font-weight="bold" text-anchor="end" fill="#000000" >SK3</text>
<text transform="translate(24.70,286.30) rotate(-90)" font-size="14.6" font-weight="bold" text-anchor="start" fill="#000000" >rE<tspan dy="-8.3" dx="1.8">GAPDH</tspan></text>
<text x="246.30" y="199.70" font-size="25.0" font-weight="bold" text-anchor="start" fill="#000000" >h</text>
<text x="319.40" y="196.10" font-size="14.7" font-weight="bold" text-anchor="middle" fill="#000000" >control</text>
<text x="319.40" y="214.70" font-size="14.7" font-weight="bold" text-anchor="middle" fill="#9C2F5F" >rotenone</text>
<text x="319.40" y="233.60" font-size="14.7" font-weight="bold" text-anchor="middle" fill="#9C2F5F" >(120 min)</text>
<text x="291.00" y="265.90" font-size="14.7" font-weight="bold" text-anchor="start" fill="#000000" >3 µM Ca<tspan font-size="9.2" dy="-3.5">2+</tspan><tspan font-size="9.2" dy="8.5" dx="1.3">i</tspan></text>
<line x1="259.00" y1="328.40" x2="374.30" y2="328.40" stroke="#333" stroke-width="1.0" stroke-dasharray="1 1.2"/>
<path d="M267.4,275.8 267.5,277.4 267.6,277.2 267.8,276.5 267.9,275.2 268.0,279.4 268.1,280.1 268.2,277.6 268.4,281.5 268.5,279.7 268.6,283.5 268.7,281.8 268.8,281.2 269.0,283.4 269.1,282.6 269.2,283.1 269.3,283.4 269.4,283.6 269.6,285.0 269.7,285.6 269.8,285.6 269.9,287.8 270.0,284.8 270.2,286.4 270.3,288.3 270.4,286.6 270.5,290.2 270.6,289.8 270.8,289.3 270.9,290.7 271.0,290.0 271.1,289.5 271.2,292.6 271.4,293.3 271.5,292.9 271.6,293.3 271.7,291.5 271.8,293.5 272.0,294.4 272.1,295.7 272.2,297.5 272.3,295.7 272.4,295.6 272.6,297.8 272.7,296.8 272.8,295.7 272.9,298.8 273.0,296.7 273.2,297.3 273.3,297.0 273.4,298.8 273.5,299.8 273.6,298.5 273.8,299.6 273.9,298.8 274.0,302.2 274.1,301.5 274.2,299.4 274.4,300.9 274.5,301.6 274.6,301.3 274.7,300.2 274.8,301.1 275.0,302.3 275.1,302.2 275.2,301.1 275.3,302.7 275.4,301.4 275.6,300.4 275.7,303.2 275.8,304.2 275.9,303.9 276.0,305.2 276.2,305.6 276.3,304.2 276.4,303.2 276.5,304.0 276.6,302.5 276.8,304.2 276.9,304.3 277.0,304.7 277.1,305.8 277.2,302.4 277.4,305.7 277.5,304.4 277.6,306.0 277.7,305.4 277.8,304.2 278.0,306.4 278.1,304.8 278.2,306.3 278.3,305.2 278.4,305.4 278.6,306.2 278.7,308.3 278.8,307.1 278.9,306.4 279.0,308.4 279.2,306.7 279.3,306.5 279.4,305.8 279.5,307.2 279.6,307.3 279.8,306.5 279.9,305.3 280.0,307.3 280.1,307.7 280.2,307.3 280.4,306.8 280.5,306.8 280.6,307.6 280.7,309.7 280.8,308.5 281.0,306.7 281.1,309.3 281.2,308.2 281.3,311.4 281.4,308.6 281.6,309.0 281.7,309.4 281.8,309.6 281.9,309.5 282.0,309.6 282.2,309.4 282.3,309.1 282.4,309.4 282.5,308.6 282.6,309.4 282.8,309.3 282.9,309.7 283.0,309.7 283.1,310.1 283.2,310.9 283.4,310.1 283.5,310.6 283.6,310.9 283.7,310.4 283.8,310.6 284.0,311.3 284.1,309.1 284.2,311.7 284.3,310.6 284.4,307.1 284.6,311.9 284.7,310.0 284.8,312.4 284.9,310.4 285.0,311.4 285.2,312.4 285.3,310.9 285.4,310.7 285.5,311.8 285.6,313.5 285.8,313.3 285.9,313.7 286.0,312.7 286.1,312.9 286.2,313.6 286.4,313.1 286.5,311.7 286.6,313.5 286.7,312.2 286.8,311.9 287.0,313.0 287.1,312.9 287.2,314.0 287.3,313.4 287.4,312.7 287.6,313.2 287.7,312.8 287.8,313.1 287.9,314.9 288.0,314.1 288.2,313.3 288.3,313.4 288.4,313.2 288.5,313.7 288.6,312.3 288.8,314.7 288.9,313.8 289.0,314.9 289.1,315.2 289.2,314.6 289.4,313.1 289.5,313.0 289.6,315.3 289.7,315.3 289.8,313.0 290.0,313.5 290.1,315.8 290.2,314.7 290.3,316.9 290.4,315.3 290.6,315.8 290.7,314.7 290.8,314.4 290.9,313.3 291.0,312.0 291.2,316.3 291.3,316.0 291.4,314.6 291.5,316.4 291.6,313.6 291.8,317.0 291.9,315.9 292.0,317.3 292.1,313.6 292.2,317.1 292.4,316.6 292.5,316.0 292.6,314.7 292.7,316.1 292.8,316.1 293.0,315.2 293.1,314.4 293.2,314.8 293.3,315.4 293.4,317.3 293.6,317.4 293.7,318.0 293.8,316.7 293.9,314.7 294.0,315.5 294.2,315.1 294.3,316.1 294.4,318.0 294.5,316.3 294.6,316.1 294.8,317.2 294.9,317.5 295.0,317.8 295.1,315.8 295.2,315.9 295.4,316.4 295.5,317.8 295.6,317.2 295.7,316.0 295.8,319.2 296.0,316.5 296.1,317.1 296.2,317.1 296.3,316.4 296.4,317.3 296.6,317.5 296.7,317.7 296.8,317.9 296.9,317.0 297.0,316.6 297.2,318.8 297.3,317.4 297.4,318.9 297.5,318.2 297.6,320.7 297.8,317.7 297.9,316.0 298.0,317.5 298.1,319.2 298.2,320.0 298.4,319.8 298.5,318.7 298.6,319.7 298.7,316.9 298.8,317.4 299.0,317.0 299.1,318.7 299.2,319.5 299.3,318.2 299.4,318.6 299.6,317.7 299.7,317.8 299.8,318.4 299.9,320.0 300.0,318.8 300.2,318.9 300.3,319.5 300.4,319.1 300.5,317.6 300.6,320.4 300.8,318.3 300.9,318.5 301.0,318.4 301.1,319.2 301.2,318.3 301.4,319.0 301.5,320.5 301.6,317.8 301.7,316.6 301.8,320.1 302.0,319.0 302.1,319.5 302.2,319.5 302.3,318.4 302.4,319.0 302.6,316.9 302.7,318.8 302.8,319.0 302.9,317.6 303.0,318.2 303.2,318.8 303.3,319.3 303.4,318.8 303.5,320.6 303.6,319.9 303.8,320.0 303.9,317.2 304.0,318.7 304.1,319.4 304.2,318.8 304.4,319.5 304.5,318.6 304.6,318.3 304.7,319.2 304.8,319.4 305.0,319.0 305.1,319.3 305.2,320.4 305.3,320.0 305.4,320.3 305.6,320.1 305.7,319.6 305.8,319.2 305.9,321.6 306.0,319.7 306.2,320.5 306.3,319.0 306.4,318.1 306.5,318.4 306.6,319.4 306.8,318.5 306.9,320.7 307.0,319.4 307.1,319.3 307.2,321.7 307.4,319.5 307.5,319.4 307.6,322.9 307.7,320.4 307.8,320.1 308.0,319.6 308.1,321.4 308.2,321.4 308.3,317.5 308.4,320.1 308.6,320.5 308.7,320.8 308.8,318.8 308.9,320.2 309.0,322.2 309.2,321.6 309.3,319.3 309.4,320.7 309.5,319.6 309.6,321.3 309.8,317.2 309.9,321.4 310.0,320.8 310.1,321.7 310.2,319.2 310.4,320.3 310.5,319.4 310.6,321.1 310.7,320.8 310.8,322.7 311.0,321.5 311.1,318.2 311.2,321.0 311.3,320.8 311.4,321.8 311.6,321.5 311.7,319.9 311.8,320.4 311.9,322.0 312.0,320.0 312.2,321.0 312.3,319.7 312.4,322.1 312.5,322.1 312.6,320.9 312.8,319.8 312.9,320.4 313.0,320.7 313.1,320.5 313.2,321.2 313.4,319.3 313.5,319.5 313.6,319.9 313.7,321.9 313.8,319.7 314.0,321.1 314.1,321.9 314.2,319.4 314.3,318.9 314.4,319.0 314.6,321.6 314.7,321.4 314.8,320.8 314.9,319.9 315.0,321.1 315.2,319.4 315.3,321.6 315.4,321.1 315.5,321.1 315.6,322.7 315.8,320.0 315.9,319.9 316.0,321.6 316.1,322.4 316.2,320.1 316.4,320.1 316.5,321.0 316.6,321.9 316.7,320.4 316.8,322.3 317.0,323.6 317.1,321.2 317.2,320.7 317.3,323.7 317.4,319.9 317.6,322.6 317.7,322.5 317.8,319.7 317.9,322.2 318.0,323.0 318.2,321.0 318.3,318.9 318.4,320.6 318.5,323.6 318.6,320.4 318.8,322.6 318.9,320.1 319.0,321.0 319.1,320.7 319.2,321.4 319.4,322.1 319.5,321.7 319.6,320.7 319.7,321.6 319.8,321.5 320.0,321.3 320.1,321.1 320.2,321.0 320.3,322.0 320.4,324.1 320.6,321.8 320.7,322.1 320.8,320.9 320.9,321.2 321.0,323.4 321.2,321.5 321.3,322.4 321.4,322.8 321.5,321.3 321.6,323.1 321.8,322.8 321.9,322.6 322.0,321.0 322.1,322.1 322.2,319.9 322.4,322.1 322.5,322.2 322.6,321.6 322.7,322.5 322.8,320.5 323.0,321.3 323.1,320.5 323.2,322.2 323.3,321.6 323.4,323.3 323.6,321.3 323.7,322.7 323.8,322.2 323.9,322.5 324.0,323.0 324.2,323.9 324.3,323.7 324.4,320.8 324.5,322.8 324.6,321.1 324.8,322.6 324.9,321.4 325.0,323.4 325.1,323.2 325.2,322.4 325.4,321.3 325.5,320.6 325.6,320.9 325.7,322.1 325.8,323.1 326.0,323.5 326.1,323.6 326.2,321.5 326.3,322.4 326.4,323.4 326.6,323.1 326.7,322.4 326.8,321.2 326.9,324.5 327.0,322.5 327.2,320.8 327.3,323.0 327.4,322.9 327.5,322.4 327.6,322.5 327.8,321.3 327.9,324.1 328.0,322.6 328.1,320.6 328.2,322.4 328.4,319.8 328.5,323.0 328.6,321.9 328.7,323.2 328.8,323.7 329.0,322.8 329.1,325.5 329.2,323.1 329.3,323.6 329.4,323.1 329.6,322.8 329.7,322.2 329.8,324.3 329.9,323.9 330.0,324.8 330.2,322.5 330.3,322.4 330.4,323.0 330.5,323.3 330.6,323.1 330.8,321.2 330.9,323.1 331.0,323.5 331.1,323.8 331.2,323.0 331.4,323.3 331.5,324.6 331.6,324.7 331.7,323.5 331.8,323.4 332.0,323.5 332.1,324.4 332.2,323.7 332.3,323.7 332.4,325.1 332.6,322.9 332.7,322.5 332.8,323.5 332.9,325.5 333.0,324.2 333.2,321.9 333.3,324.6 333.4,323.9 333.5,324.0 333.6,322.0 333.8,323.0 333.9,323.1 334.0,324.6 334.1,322.8 334.2,322.8 334.4,322.1 334.5,324.6 334.6,323.3 334.7,324.6 334.8,323.7 335.0,324.5 335.1,323.0 335.2,324.5 335.3,323.3 335.4,323.1 335.6,325.0 335.7,322.6 335.8,324.1 335.9,324.3 336.0,324.2 336.2,324.1 336.3,325.1 336.4,323.3 336.5,325.6 336.6,325.6 336.8,324.4 336.9,324.0 337.0,322.8 337.1,323.1 337.2,323.3 337.4,324.3 337.5,325.8 337.6,322.4 337.7,325.2 337.8,324.3 338.0,324.6 338.1,324.4 338.2,323.5 338.3,323.8 338.4,324.3 338.6,325.5 338.7,324.0 338.8,325.8 338.9,325.5 339.0,324.0 339.2,324.7 339.3,325.7 339.4,323.0 339.5,323.4 339.6,325.3 339.8,325.2 339.9,323.6 340.0,323.3 340.1,325.0 340.2,325.8 340.4,323.9 340.5,323.4 340.6,325.7 340.7,325.3 340.8,323.1 341.0,323.5 341.1,324.2 341.2,325.6 341.3,325.3 341.4,324.5 341.6,322.5 341.7,327.2 341.8,323.7 341.9,326.4 342.0,326.3 342.2,325.2 342.3,325.0 342.4,323.7 342.5,323.3 342.6,323.6 342.8,323.1 342.9,324.4 343.0,323.1 343.1,326.2 343.2,327.4 343.4,322.0 343.5,323.2 343.6,325.4 343.7,325.0 343.8,324.3 344.0,324.5 344.1,325.2 344.2,324.2 344.3,325.4 344.4,326.2 344.6,326.2 344.7,326.8 344.8,325.1 344.9,325.4 345.0,323.0 345.2,324.6 345.3,323.8 345.4,326.2 345.5,327.0 345.6,324.5 345.8,324.5 345.9,324.3 346.0,324.8 346.1,324.0 346.2,325.9 346.4,324.6 346.5,326.7 346.6,325.9 346.7,324.6 346.8,324.3 347.0,326.0 347.1,324.6 347.2,323.2 347.3,324.7 347.4,324.1 347.6,327.3 347.7,325.0 347.8,324.4 347.9,322.6 348.0,326.4 348.2,325.6 348.3,325.0 348.4,324.8 348.5,325.3 348.6,325.9 348.8,325.3 348.9,324.6 349.0,325.3 349.1,322.7 349.2,324.5 349.4,324.7 349.5,324.3 349.6,324.9 349.7,325.9 349.8,325.0 350.0,323.6 350.1,325.5 350.2,326.2 350.3,326.2 350.4,325.9 350.6,326.4 350.7,325.1 350.8,322.3 350.9,324.7 351.0,323.9 351.2,325.4 351.3,326.0 351.4,324.6 351.5,326.3 351.6,323.9 351.8,326.0 351.9,324.2 352.0,324.5 352.1,324.0 352.2,325.6 352.4,327.0 352.5,324.7 352.6,325.0 352.7,325.9 352.8,324.5 353.0,325.4 353.1,325.1 353.2,324.4 353.3,324.0 353.4,326.6 353.6,325.3 353.7,324.5 353.8,326.6 353.9,325.5 354.0,324.2 354.2,324.2 354.3,325.3 354.4,324.8 354.5,325.9 354.6,324.1 354.8,323.9 354.9,325.3 355.0,326.3 355.1,325.0 355.2,328.3 355.4,328.0 355.5,325.5 355.6,324.6 355.7,325.8 355.8,325.1 356.0,325.6 356.1,326.1 356.2,325.7 356.3,323.6 356.4,327.7 356.6,324.8 356.7,325.6 356.8,326.4 356.9,325.8 357.0,325.9 357.2,326.3 357.3,324.5 357.4,326.2 357.5,326.8 357.6,325.5 357.8,327.1 357.9,327.5 358.0,325.6 358.1,326.8 358.2,326.1 358.4,327.1 358.5,325.5 358.6,324.2 358.7,326.9 358.8,326.6 359.0,326.3 359.1,324.9 359.2,325.2 359.3,326.2 359.4,325.9 359.6,325.0 359.7,325.7 359.8,326.5 359.9,325.0 360.0,325.7 360.2,325.1 360.3,326.8 360.4,325.8 360.5,325.8 360.6,326.9 360.8,326.3 360.9,325.4 361.0,327.1 361.1,324.4 361.2,324.6 361.4,326.3 361.5,325.7 361.6,327.2 361.7,326.2 361.8,326.1 362.0,327.1 362.1,325.4 362.2,324.5 362.3,326.8 362.4,325.2 362.6,326.5 362.7,325.1 362.8,325.9 362.9,325.6 363.0,325.2 363.2,325.4 363.3,326.6 363.4,326.0 363.5,326.7 363.6,325.2 363.8,325.3 363.9,324.8 364.0,325.1 364.1,326.0 364.2,326.0 364.4,326.6 364.5,327.2 364.6,326.7 364.7,325.9 364.8,325.2 365.0,327.8 365.1,326.7 365.2,323.2 365.3,326.4 365.4,327.2 365.6,325.7 365.7,326.7 365.8,326.1 365.9,326.6 366.0,326.1 366.2,326.8 366.3,326.3 366.4,326.8 366.5,325.7 366.6,326.8 366.8,325.8 366.9,324.3 367.0,326.4 367.1,326.4 367.2,325.3 367.4,327.7 367.5,325.9 367.6,327.1 367.7,326.0 367.8,326.5 368.0,326.8 368.1,327.4 368.2,325.7 368.3,325.1 368.4,328.1" fill="none" stroke="#A53363" stroke-width="1.2" stroke-linejoin="round" stroke-linecap="round"/>
<path d="M267.2,231.6 267.3,231.8 267.4,236.6 267.6,234.3 267.7,235.9 267.8,239.1 267.9,237.0 268.0,238.6 268.2,240.8 268.3,241.4 268.4,241.3 268.5,243.5 268.6,244.3 268.8,246.5 268.9,244.6 269.0,246.8 269.1,250.2 269.2,252.1 269.4,248.7 269.5,252.4 269.6,251.1 269.7,252.1 269.8,252.9 270.0,254.4 270.1,257.1 270.2,257.5 270.3,257.5 270.4,257.8 270.6,259.1 270.7,259.6 270.8,261.4 270.9,260.1 271.0,261.4 271.2,261.9 271.3,262.5 271.4,263.5 271.5,264.0 271.6,266.0 271.8,264.7 271.9,267.2 272.0,265.1 272.1,265.1 272.2,266.1 272.4,266.7 272.5,266.9 272.6,268.5 272.7,268.6 272.8,268.0 273.0,267.2 273.1,267.8 273.2,270.0 273.3,268.7 273.4,267.0 273.6,268.1 273.7,268.5 273.8,271.0 273.9,269.7 274.0,273.0 274.2,271.2 274.3,270.8 274.4,270.3 274.5,272.4 274.6,271.1 274.8,270.6 274.9,272.7 275.0,272.3 275.1,274.1 275.2,272.7 275.4,269.3 275.5,274.4 275.6,271.2 275.7,275.8 275.8,276.3 276.0,273.6 276.1,272.8 276.2,272.7 276.3,275.8 276.4,274.6 276.6,274.2 276.7,274.9 276.8,278.1 276.9,276.0 277.0,276.7 277.2,276.9 277.3,277.4 277.4,277.6 277.5,275.5 277.6,276.3 277.8,275.7 277.9,276.0 278.0,278.6 278.1,276.6 278.2,277.3 278.4,276.7 278.5,277.0 278.6,279.0 278.7,277.5 278.8,277.7 279.0,279.1 279.1,279.3 279.2,279.9 279.3,279.2 279.4,276.9 279.6,280.2 279.7,280.2 279.8,281.0 279.9,278.8 280.0,283.3 280.2,278.6 280.3,281.3 280.4,280.6 280.5,280.1 280.6,282.0 280.8,280.7 280.9,278.2 281.0,279.9 281.1,282.2 281.2,284.7 281.4,280.0 281.5,282.1 281.6,284.2 281.7,283.3 281.8,282.2 282.0,280.9 282.1,280.6 282.2,282.1 282.3,282.7 282.4,280.4 282.6,281.3 282.7,284.0 282.8,283.3 282.9,282.9 283.0,283.5 283.2,283.2 283.3,285.6 283.4,286.6 283.5,287.3 283.6,285.7 283.8,285.9 283.9,287.0 284.0,287.5 284.1,287.3 284.2,287.1 284.4,284.8 284.5,283.7 284.6,287.1 284.7,285.9 284.8,286.1 285.0,285.2 285.1,284.8 285.2,288.5 285.3,287.4 285.4,285.5 285.6,287.6 285.7,287.6 285.8,288.0 285.9,290.4 286.0,287.6 286.2,286.1 286.3,288.0 286.4,287.2 286.5,288.9 286.6,288.6 286.8,288.9 286.9,287.9 287.0,289.3 287.1,288.2 287.2,289.7 287.4,288.8 287.5,287.9 287.6,290.1 287.7,288.7 287.8,291.6 288.0,290.5 288.1,290.6 288.2,290.3 288.3,290.2 288.4,287.3 288.6,292.1 288.7,289.5 288.8,291.9 288.9,289.9 289.0,290.6 289.2,290.6 289.3,289.6 289.4,290.8 289.5,291.7 289.6,290.6 289.8,289.6 289.9,290.6 290.0,291.7 290.1,293.0 290.2,292.7 290.4,292.0 290.5,290.4 290.6,293.0 290.7,291.9 290.8,291.7 291.0,293.2 291.1,292.9 291.2,292.8 291.3,290.8 291.4,291.6 291.6,290.2 291.7,292.8 291.8,292.6 291.9,293.9 292.0,293.0 292.2,292.4 292.3,295.7 292.4,291.6 292.5,291.3 292.6,292.3 292.8,293.9 292.9,292.8 293.0,292.8 293.1,292.0 293.2,295.5 293.4,292.8 293.5,292.3 293.6,293.6 293.7,292.8 293.8,293.6 294.0,295.7 294.1,293.5 294.2,294.1 294.3,293.8 294.4,294.1 294.6,295.5 294.7,295.2 294.8,294.1 294.9,293.4 295.0,294.5 295.2,295.9 295.3,294.9 295.4,294.8 295.5,292.7 295.6,296.4 295.8,293.2 295.9,293.6 296.0,294.9 296.1,295.5 296.2,295.6 296.4,294.6 296.5,295.3 296.6,294.9 296.7,293.5 296.8,295.6 297.0,295.1 297.1,296.6 297.2,295.9 297.3,297.4 297.4,297.1 297.6,297.5 297.7,297.9 297.8,297.3 297.9,296.3 298.0,298.3 298.2,295.4 298.3,296.6 298.4,297.9 298.5,296.5 298.6,297.8 298.8,295.9 298.9,296.3 299.0,297.8 299.1,298.1 299.2,298.8 299.4,297.2 299.5,297.7 299.6,298.2 299.7,298.1 299.8,295.9 300.0,296.9 300.1,299.5 300.2,296.1 300.3,298.6 300.4,297.3 300.6,299.2 300.7,297.0 300.8,298.1 300.9,295.5 301.0,298.1 301.2,299.7 301.3,296.4 301.4,299.9 301.5,297.5 301.6,298.5 301.8,295.0 301.9,300.1 302.0,297.6 302.1,298.1 302.2,297.2 302.4,297.6 302.5,300.5 302.6,298.4 302.7,300.3 302.8,298.9 303.0,299.7 303.1,298.6 303.2,299.9 303.3,302.8 303.4,300.3 303.6,300.2 303.7,299.0 303.8,301.0 303.9,301.5 304.0,297.6 304.2,298.1 304.3,302.7 304.4,300.6 304.5,300.3 304.6,300.9 304.8,301.6 304.9,301.3 305.0,300.1 305.1,303.1 305.2,300.5 305.4,299.4 305.5,299.9 305.6,300.5 305.7,300.2 305.8,300.6 306.0,301.3 306.1,296.7 306.2,300.0 306.3,302.3 306.4,301.8 306.6,300.3 306.7,300.4 306.8,302.7 306.9,301.0 307.0,300.6 307.2,303.8 307.3,300.9 307.4,302.4 307.5,301.5 307.6,301.6 307.8,300.4 307.9,300.6 308.0,303.3 308.1,300.3 308.2,302.2 308.4,300.3 308.5,301.6 308.6,301.9 308.7,299.9 308.8,303.5 309.0,301.8 309.1,303.7 309.2,301.0 309.3,303.4 309.4,305.3 309.6,302.6 309.7,301.5 309.8,303.0 309.9,302.6 310.0,302.2 310.2,302.4 310.3,301.8 310.4,303.2 310.5,302.2 310.6,301.6 310.8,303.8 310.9,302.6 311.0,306.3 311.1,302.6 311.2,302.0 311.4,302.3 311.5,303.5 311.6,302.2 311.7,301.5 311.8,305.3 312.0,301.6 312.1,305.3 312.2,303.5 312.3,302.0 312.4,305.6 312.6,303.2 312.7,302.2 312.8,303.7 312.9,305.3 313.0,304.6 313.2,304.8 313.3,306.0 313.4,304.1 313.5,304.3 313.6,303.6 313.8,302.1 313.9,303.8 314.0,306.1 314.1,301.8 314.2,305.9 314.4,304.5 314.5,303.0 314.6,304.4 314.7,306.6 314.8,303.6 315.0,305.4 315.1,305.9 315.2,303.3 315.3,305.4 315.4,305.3 315.6,304.0 315.7,305.6 315.8,304.3 315.9,304.0 316.0,303.2 316.2,305.3 316.3,304.3 316.4,304.2 316.5,303.5 316.6,303.2 316.8,304.0 316.9,306.0 317.0,304.0 317.1,307.0 317.2,305.7 317.4,305.4 317.5,303.7 317.6,307.8 317.7,303.5 317.8,306.1 318.0,307.6 318.1,305.2 318.2,304.6 318.3,305.5 318.4,306.7 318.6,307.3 318.7,306.4 318.8,304.3 318.9,304.8 319.0,306.0 319.2,304.1 319.3,305.5 319.4,308.8 319.5,304.5 319.6,307.4 319.8,304.7 319.9,305.5 320.0,305.9 320.1,304.1 320.2,306.0 320.4,307.8 320.5,307.1 320.6,307.1 320.7,305.2 320.8,306.1 321.0,306.6 321.1,307.2 321.2,308.1 321.3,305.1 321.4,308.7 321.6,306.1 321.7,306.2 321.8,305.0 321.9,306.5 322.0,306.4 322.2,305.1 322.3,306.4 322.4,306.9 322.5,306.3 322.6,307.9 322.8,305.5 322.9,308.1 323.0,306.7 323.1,307.5 323.2,304.6 323.4,307.2 323.5,307.0 323.6,308.4 323.7,305.6 323.8,309.0 324.0,305.8 324.1,309.0 324.2,308.1 324.3,306.4 324.4,310.2 324.6,305.9 324.7,307.2 324.8,307.8 324.9,308.2 325.0,307.9 325.2,308.6 325.3,308.2 325.4,307.7 325.5,306.5 325.6,307.2 325.8,308.9 325.9,306.2 326.0,307.9 326.1,305.1 326.2,306.9 326.4,305.7 326.5,309.5 326.6,305.5 326.7,307.6 326.8,308.9 327.0,308.7 327.1,309.0 327.2,309.4 327.3,308.6 327.4,309.1 327.6,308.0 327.7,308.0 327.8,305.8 327.9,308.3 328.0,309.8 328.2,307.2 328.3,306.6 328.4,308.3 328.5,309.7 328.6,309.8 328.8,306.3 328.9,308.9 329.0,307.4 329.1,308.7 329.2,305.4 329.4,309.6 329.5,307.9 329.6,308.7 329.7,308.2 329.8,307.1 330.0,309.2 330.1,307.9 330.2,307.6 330.3,309.4 330.4,308.4 330.6,307.7 330.7,309.8 330.8,307.9 330.9,308.6 331.0,309.6 331.2,309.9 331.3,310.3 331.4,310.9 331.5,308.8 331.6,307.7 331.8,310.9 331.9,310.6 332.0,308.4 332.1,309.8 332.2,308.4 332.4,306.9 332.5,310.3 332.6,309.4 332.7,309.1 332.8,311.2 333.0,310.9 333.1,308.2 333.2,307.6 333.3,306.6 333.4,309.1 333.6,308.6 333.7,309.6 333.8,309.2 333.9,308.3 334.0,308.7 334.2,307.2 334.3,310.8 334.4,308.6 334.5,310.1 334.6,308.5 334.8,309.4 334.9,310.2 335.0,309.0 335.1,308.3 335.2,312.4 335.4,309.2 335.5,310.2 335.6,309.4 335.7,308.5 335.8,311.2 336.0,310.1 336.1,310.0 336.2,306.6 336.3,310.0 336.4,310.7 336.6,310.0 336.7,309.5 336.8,311.2 336.9,310.0 337.0,310.5 337.2,311.1 337.3,311.1 337.4,308.1 337.5,310.3 337.6,308.9 337.8,307.3 337.9,310.3 338.0,307.7 338.1,309.3 338.2,306.7 338.4,308.7 338.5,309.4 338.6,310.0 338.7,309.3 338.8,308.9 339.0,308.9 339.1,312.1 339.2,309.5 339.3,310.0 339.4,312.6 339.6,307.9 339.7,307.5 339.8,308.9 339.9,309.7 340.0,308.8 340.2,310.2 340.3,310.2 340.4,308.3 340.5,310.6 340.6,308.5 340.8,311.3 340.9,310.7 341.0,313.3 341.1,311.5 341.2,310.2 341.4,311.0 341.5,310.7 341.6,309.6 341.7,308.7 341.8,312.0 342.0,312.6 342.1,310.0 342.2,310.3 342.3,310.1 342.4,312.0 342.6,312.3 342.7,309.6 342.8,310.3 342.9,310.1 343.0,311.1 343.2,311.8 343.3,312.3 343.4,310.5 343.5,309.6 343.6,311.6 343.8,311.7 343.9,310.5 344.0,311.2 344.1,311.5 344.2,312.2 344.4,311.1 344.5,311.7 344.6,311.3 344.7,309.8 344.8,312.0 345.0,311.3 345.1,312.5 345.2,309.6 345.3,310.3 345.4,311.6 345.6,309.0 345.7,311.1 345.8,310.7 345.9,310.7 346.0,311.0 346.2,308.4 346.3,311.4 346.4,311.4 346.5,312.7 346.6,313.2 346.8,311.8 346.9,312.6 347.0,308.3 347.1,312.1 347.2,312.9 347.4,312.6 347.5,311.8 347.6,311.0 347.7,311.0 347.8,311.6 348.0,312.1 348.1,312.3 348.2,311.5 348.3,310.0 348.4,314.0 348.6,310.5 348.7,308.2 348.8,313.5 348.9,313.0 349.0,311.9 349.2,313.0 349.3,312.3 349.4,310.7 349.5,311.9 349.6,310.2 349.8,310.9 349.9,310.7 350.0,312.0 350.1,313.2 350.2,311.0 350.4,312.5 350.5,309.1 350.6,310.5 350.7,312.6 350.8,313.2 351.0,313.2 351.1,313.4 351.2,309.9 351.3,311.3 351.4,308.7 351.6,311.8 351.7,312.4 351.8,311.6 351.9,310.9 352.0,312.7 352.2,312.8 352.3,312.3 352.4,311.4 352.5,312.2 352.6,312.3 352.8,312.5 352.9,313.0 353.0,312.2 353.1,310.4 353.2,311.9 353.4,312.8 353.5,311.7 353.6,312.6 353.7,311.4 353.8,314.1 354.0,312.9 354.1,312.5 354.2,313.4 354.3,313.4 354.4,312.5 354.6,313.7 354.7,313.3 354.8,312.7 354.9,312.4 355.0,311.0 355.2,312.7 355.3,312.7 355.4,311.4 355.5,314.3 355.6,312.5 355.8,311.1 355.9,312.0 356.0,312.5 356.1,312.5 356.2,311.5 356.4,312.6 356.5,310.7 356.6,312.0 356.7,313.2 356.8,311.7 357.0,313.5 357.1,313.7 357.2,311.9 357.3,309.5 357.4,313.8 357.6,314.4 357.7,310.6 357.8,313.0 357.9,313.1 358.0,310.6 358.2,312.1 358.3,314.4 358.4,313.1 358.5,312.8 358.6,314.3 358.8,312.1 358.9,310.5 359.0,314.6 359.1,311.8 359.2,312.9 359.4,314.4 359.5,313.3 359.6,313.1 359.7,312.1 359.8,313.7 360.0,315.8 360.1,312.2 360.2,311.5 360.3,313.4 360.4,312.1 360.6,313.2 360.7,313.1 360.8,313.7 360.9,313.3 361.0,313.5 361.2,314.7 361.3,311.8 361.4,313.2 361.5,313.5 361.6,311.6 361.8,311.9 361.9,312.7 362.0,312.5 362.1,314.6 362.2,313.4 362.4,317.0 362.5,312.7 362.6,312.8 362.7,316.2 362.8,312.5 363.0,316.1 363.1,309.2 363.2,312.4 363.3,315.1 363.4,315.4 363.6,313.9 363.7,312.5 363.8,313.2 363.9,314.4 364.0,313.8 364.2,314.6 364.3,312.4 364.4,314.5 364.5,315.1 364.6,317.4 364.8,314.4 364.9,314.3 365.0,312.3 365.1,311.7 365.2,310.5 365.4,314.1 365.5,316.1 365.6,313.4 365.7,310.3 365.8,313.7 366.0,313.2 366.1,313.0 366.2,315.8 366.3,315.1 366.4,315.5 366.6,312.5 366.7,314.0 366.8,312.1 366.9,315.1 367.0,312.1 367.2,315.2 367.3,313.9 367.4,313.9 367.5,311.8 367.6,314.6 367.8,311.3 367.9,312.0 368.0,312.4 368.1,316.4 368.2,313.8 368.4,312.8 368.5,314.4 368.6,316.8" fill="none" stroke="#000000" stroke-width="1.3" stroke-linejoin="round" stroke-linecap="round"/>
<line x1="266.90" y1="228.40" x2="266.90" y2="330.20" stroke="#000000" stroke-width="1.6" />
<text x="376.00" y="334.50" font-size="11" font-weight="normal" text-anchor="start" fill="#000000" >0</text>
<path d="M259.0,318.0 V337.5 H279.4" fill="none" stroke="#000" stroke-width="1.2"/>
<text transform="translate(255.10,340.30) rotate(-90)" font-size="11" font-weight="normal" text-anchor="start" fill="#000000" >100 pA</text>
<text x="257.80" y="350.10" font-size="11" font-weight="normal" text-anchor="start" fill="#000000" >50 ms</text>
<text x="410.80" y="199.70" font-size="25.0" font-weight="bold" text-anchor="start" fill="#000000" >i</text>
<line x1="475.50" y1="207.40" x2="475.50" y2="300.15" stroke="#000000" stroke-width="1.1" />
<line x1="474.95" y1="299.60" x2="521.50" y2="299.60" stroke="#000000" stroke-width="1.1" />
<line x1="468.70" y1="299.60" x2="475.50" y2="299.60" stroke="#000000" stroke-width="1.1" />
<text x="465.10" y="304.60" font-size="14" font-weight="normal" text-anchor="end" fill="#000000" >0</text>
<line x1="468.70" y1="278.18" x2="475.50" y2="278.18" stroke="#000000" stroke-width="1.1" />
<text x="465.10" y="283.18" font-size="14" font-weight="normal" text-anchor="end" fill="#000000" >3</text>
<line x1="468.70" y1="256.76" x2="475.50" y2="256.76" stroke="#000000" stroke-width="1.1" />
<text x="465.10" y="261.76" font-size="14" font-weight="normal" text-anchor="end" fill="#000000" >6</text>
<line x1="468.70" y1="235.34" x2="475.50" y2="235.34" stroke="#000000" stroke-width="1.1" />
<text x="465.10" y="240.34" font-size="14" font-weight="normal" text-anchor="end" fill="#000000" >9</text>
<line x1="468.70" y1="213.92" x2="475.50" y2="213.92" stroke="#000000" stroke-width="1.1" />
<text x="465.10" y="218.92" font-size="14" font-weight="normal" text-anchor="end" fill="#000000" >12</text>
<line x1="472.30" y1="288.89" x2="475.50" y2="288.89" stroke="#000000" stroke-width="1.1" />
<line x1="472.30" y1="267.47" x2="475.50" y2="267.47" stroke="#000000" stroke-width="1.1" />
<line x1="472.30" y1="246.05" x2="475.50" y2="246.05" stroke="#000000" stroke-width="1.1" />
<line x1="472.30" y1="224.63" x2="475.50" y2="224.63" stroke="#000000" stroke-width="1.1" />
<line x1="477.60" y1="299.60" x2="477.60" y2="302.80" stroke="#000000" stroke-width="1.1" />
<line x1="498.60" y1="299.60" x2="498.60" y2="302.80" stroke="#000000" stroke-width="1.1" />
<line x1="519.80" y1="299.60" x2="519.80" y2="302.80" stroke="#000000" stroke-width="1.1" />
<circle cx="487.2" cy="212.2" r="1.0" fill="none" stroke="#333" stroke-width="0.7"/>
<circle cx="484.3" cy="238.5" r="1.0" fill="none" stroke="#333" stroke-width="0.7"/>
<circle cx="491.2" cy="239.4" r="1.0" fill="none" stroke="#333" stroke-width="0.7"/>
<circle cx="487.5" cy="246.9" r="1.0" fill="none" stroke="#333" stroke-width="0.7"/>
<circle cx="482.1" cy="251.9" r="1.0" fill="none" stroke="#333" stroke-width="0.7"/>
<circle cx="487.5" cy="273.3" r="1.0" fill="none" stroke="#333" stroke-width="0.7"/>
<circle cx="511.3" cy="246.9" r="1.0" fill="none" stroke="#A53363" stroke-width="0.6"/>
<circle cx="505.8" cy="251.3" r="1.0" fill="none" stroke="#A53363" stroke-width="0.6"/>
<circle cx="508.5" cy="276.0" r="1.0" fill="none" stroke="#A53363" stroke-width="0.6"/>
<circle cx="502.2" cy="282.0" r="1.0" fill="none" stroke="#A53363" stroke-width="0.6"/>
<circle cx="514.0" cy="280.0" r="1.0" fill="none" stroke="#A53363" stroke-width="0.6"/>
<path d="M479.50,299.60 V243.80 H496.30 V299.60" fill="none" stroke="#000000" stroke-width="3.0"/>
<path d="M500.50,299.60 V267.10 H517.40 V299.60" fill="none" stroke="#A53363" stroke-width="3.0"/>
<line x1="487.90" y1="242.30" x2="487.90" y2="236.10" stroke="#000000" stroke-width="1.2" />
<line x1="484.30" y1="236.10" x2="491.50" y2="236.10" stroke="#000000" stroke-width="1.2" />
<line x1="508.80" y1="265.60" x2="508.80" y2="261.40" stroke="#000000" stroke-width="1.2" />
<line x1="505.20" y1="261.40" x2="512.40" y2="261.40" stroke="#000000" stroke-width="1.2" />
<text x="487.70" y="296.30" font-size="10.5" font-weight="bold" text-anchor="middle" fill="#000000" >7</text>
<text x="509.30" y="296.30" font-size="10.5" font-weight="bold" text-anchor="middle" fill="#000000" >7</text>
<text x="508.20" y="263.80" font-size="15.5" font-weight="bold" text-anchor="middle" fill="#D42027" >*</text>
<text transform="translate(418.70,254.50) rotate(-90)" font-size="15" font-weight="bold" text-anchor="middle" fill="#000000" ><tspan font-style="italic">I</tspan><tspan font-size="10" dy="6">AHP</tspan><tspan dy="-6"> density</tspan></text>
<text transform="translate(443.30,256.00) rotate(-90)" font-size="16.4" font-weight="bold" text-anchor="middle" fill="#000000" >(pA/pF)</text>
<text transform="translate(493.30,312.10) rotate(-45)" font-size="16.1" font-weight="bold" text-anchor="end" fill="#000000" >control</text>
<text transform="translate(513.60,314.30) rotate(-45)" font-size="16.1" font-weight="bold" text-anchor="end" fill="#000000" >rotenone</text>
</g>
</svg>
</body></html>
